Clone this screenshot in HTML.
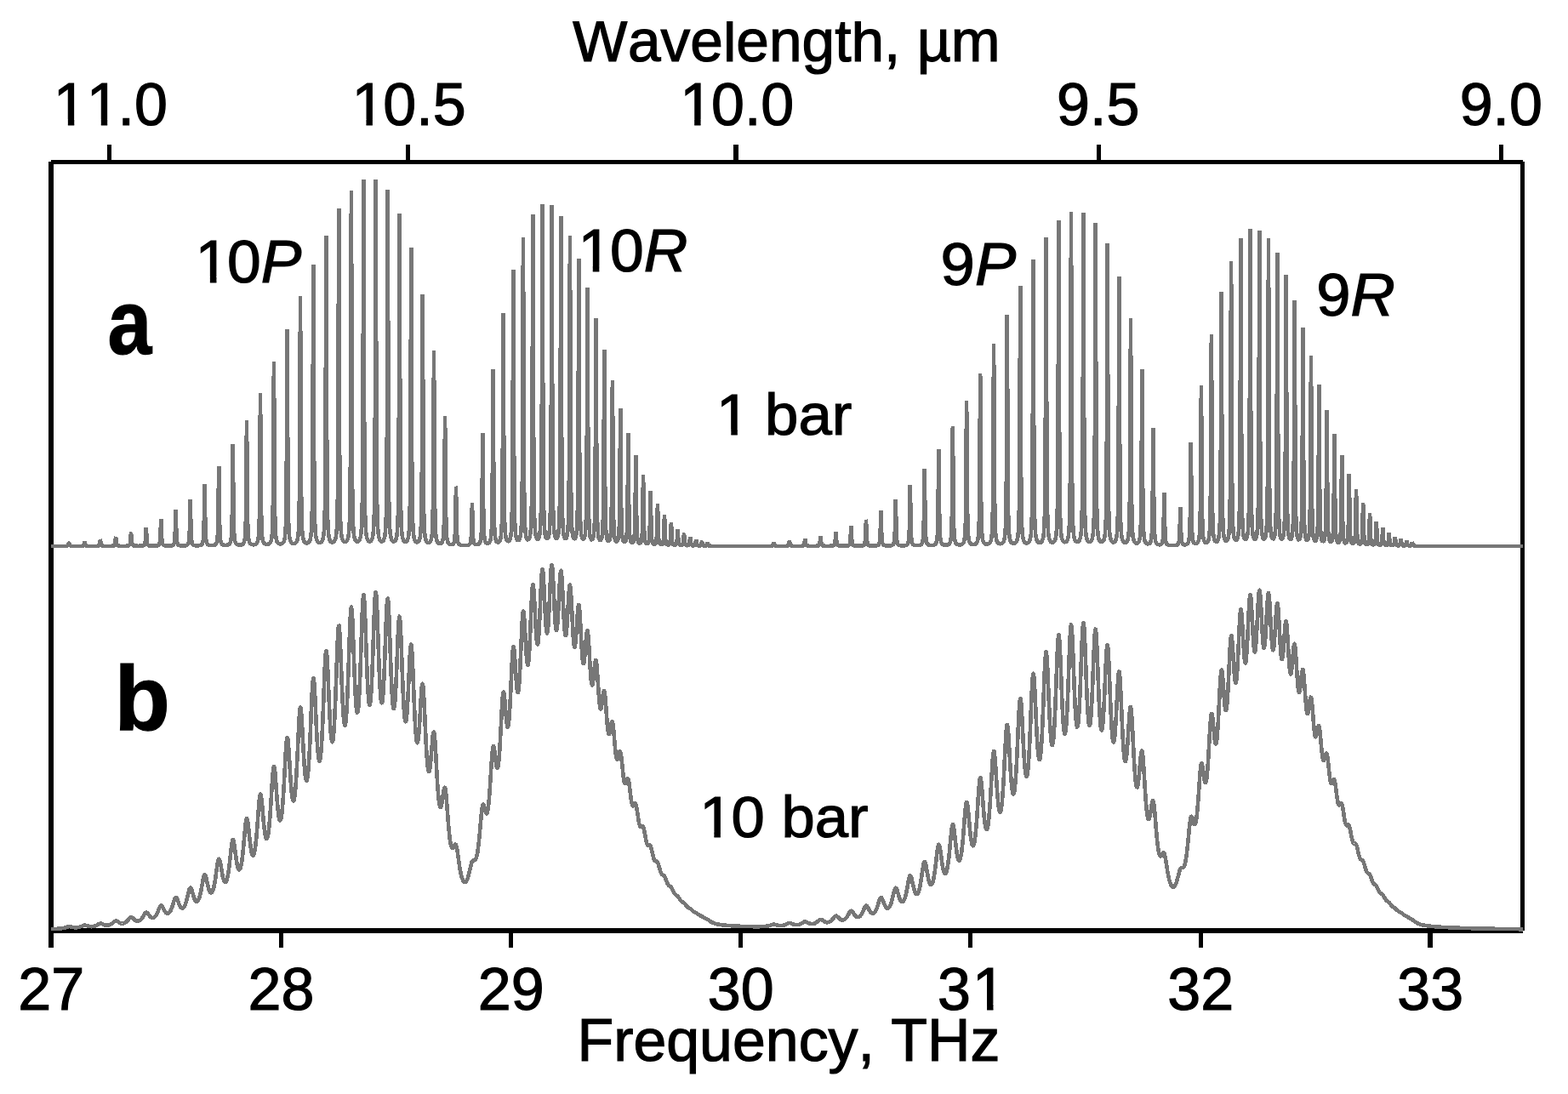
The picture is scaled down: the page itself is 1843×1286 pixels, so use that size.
<!DOCTYPE html>
<html lang="en"><head><meta charset="utf-8"><title>CO2 gain spectrum at 1 bar and 10 bar</title>
<style>
html,body{margin:0;padding:0;background:#fff;}
body{width:1843px;height:1286px;overflow:hidden;}
svg{display:block;}
text{font-kerning:none;font-family:"Liberation Sans",Arial,Helvetica,sans-serif;font-size:70px;fill:#000;stroke:#000;stroke-width:1.2px;stroke-linejoin:miter;}
.m{text-anchor:middle;}
.b{font-weight:bold;font-size:107px;}
.i{font-style:italic;}
.c{fill:none;stroke:#777;stroke-width:4.6;stroke-linejoin:bevel;stroke-linecap:butt;}
</style></head>
<body>
<svg width="1843" height="1286" viewBox="0 0 1843 1286">
<defs><clipPath id="tc"><rect x="0" y="25" width="1843" height="100"/></clipPath><clipPath id="k110"><path clip-rule="evenodd" d="M0 0H1843V1286H0ZM66.70 140.41H79.87V148.92H66.70ZM87.25 140.41H99.88V148.92H87.25ZM105.63 140.41H118.80V148.92H105.63ZM126.18 140.41H138.81V148.92H126.18Z"/></clipPath><clipPath id="k105"><path clip-rule="evenodd" d="M0 0H1843V1286H0ZM417.32 140.41H430.49V148.92H417.32ZM437.88 140.41H450.50V148.92H437.88Z"/></clipPath><clipPath id="k100"><path clip-rule="evenodd" d="M0 0H1843V1286H0ZM803.00 140.41H816.18V148.92H803.00ZM823.56 140.41H836.19V148.92H823.56Z"/></clipPath><clipPath id="k31"><path clip-rule="evenodd" d="M0 0H1843V1286H0ZM1146.90 1180.21H1160.07V1188.72H1146.90ZM1167.46 1180.21H1180.08V1188.72H1167.46Z"/></clipPath><clipPath id="k10P"><path clip-rule="evenodd" d="M0 0H1843V1286H0ZM233.45 325.24H246.88V333.71H233.45ZM254.42 325.24H267.29V333.71H254.42Z"/></clipPath><clipPath id="k10R"><path clip-rule="evenodd" d="M0 0H1843V1286H0ZM683.35 312.64H696.78V321.11H683.35ZM704.32 312.64H717.19V321.11H704.32Z"/></clipPath><clipPath id="k1bar"><path clip-rule="evenodd" d="M0 0H1843V1286H0ZM846.00 504.80H859.33V513.06H846.00ZM866.81 504.80H879.58V513.06H866.81Z"/></clipPath><clipPath id="k10bar"><path clip-rule="evenodd" d="M0 0H1843V1286H0ZM826.09 977.80H839.39V986.06H826.09ZM846.85 977.80H859.60V986.06H846.85Z"/></clipPath></defs>
<rect width="1843" height="1286" fill="#fff"/>
<g shape-rendering="crispEdges" fill="#000">
<rect x="60" y="188" width="1730" height="5"/>
<rect x="57" y="190" width="6" height="924"/>
<rect x="1787" y="190" width="5" height="904"/>
<rect x="60" y="1091" width="1730" height="6"/>
<rect x="126" y="170" width="5" height="19"/><rect x="477" y="170" width="5" height="19"/><rect x="862" y="170" width="6" height="19"/><rect x="1289" y="170" width="5" height="19"/><rect x="1762" y="170" width="5" height="19"/>
<rect x="328" y="1096" width="5" height="18"/><rect x="598" y="1096" width="5" height="18"/><rect x="868" y="1096" width="5" height="18"/><rect x="1138" y="1096" width="5" height="18"/><rect x="1409" y="1096" width="5" height="18"/><rect x="1678" y="1096" width="6" height="18"/>
</g>
<g shape-rendering="crispEdges">
<path class="c" d="M60.00,641.97 L61.00,641.97 L62.00,641.97 L63.00,641.97 L64.00,641.97 L65.00,641.97 L66.00,641.97 L67.00,641.97 L68.00,641.97 L69.00,641.97 L70.00,641.96 L71.00,641.96 L72.00,641.96 L73.00,641.95 L74.00,641.95 L75.00,641.94 L76.00,641.93 L77.00,641.90 L78.00,641.85 L79.00,641.72 L80.00,641.13 L81.00,638.00 L81.01,638.00 L82.00,641.11 L83.00,641.71 L84.00,641.85 L85.00,641.90 L86.00,641.92 L87.00,641.93 L88.00,641.94 L89.00,641.94 L90.00,641.94 L91.00,641.94 L92.00,641.93 L93.00,641.92 L94.00,641.91 L95.00,641.89 L96.00,641.85 L97.00,641.74 L98.00,641.42 L99.00,639.53 L99.58,636.50 L100.00,638.63 L101.00,641.30 L102.00,641.71 L103.00,641.83 L104.00,641.88 L105.00,641.90 L106.00,641.91 L107.00,641.92 L108.00,641.92 L109.00,641.92 L110.00,641.91 L111.00,641.91 L112.00,641.89 L113.00,641.87 L114.00,641.82 L115.00,641.72 L116.00,641.45 L117.00,640.21 L117.94,634.50 L118.00,634.59 L119.00,640.49 L120.00,641.49 L121.00,641.73 L122.00,641.82 L123.00,641.86 L124.00,641.88 L125.00,641.89 L126.00,641.89 L127.00,641.89 L128.00,641.89 L129.00,641.87 L130.00,641.85 L131.00,641.82 L132.00,641.76 L133.00,641.63 L134.00,641.29 L135.00,639.90 L136.00,631.32 L136.09,631.00 L137.00,639.23 L138.00,641.17 L139.00,641.59 L140.00,641.73 L141.00,641.80 L142.00,641.83 L143.00,641.85 L144.00,641.85 L145.00,641.85 L146.00,641.84 L147.00,641.83 L148.00,641.80 L149.00,641.75 L150.00,641.66 L151.00,641.46 L152.00,640.93 L153.00,638.64 L154.00,626.03 L154.02,626.00 L155.00,638.38 L156.00,640.87 L157.00,641.43 L158.00,641.63 L159.00,641.72 L160.00,641.77 L161.00,641.79 L162.00,641.80 L163.00,641.80 L164.00,641.78 L165.00,641.76 L166.00,641.71 L167.00,641.63 L168.00,641.48 L169.00,641.13 L170.00,640.10 L171.00,634.69 L171.74,620.00 L172.00,624.23 L173.00,638.66 L174.00,640.77 L175.00,641.33 L176.00,641.54 L177.00,641.65 L178.00,641.70 L179.00,641.72 L180.00,641.73 L181.00,641.72 L182.00,641.69 L183.00,641.64 L184.00,641.56 L185.00,641.40 L186.00,641.08 L187.00,640.28 L188.00,637.26 L189.00,616.60 L189.26,610.50 L190.00,631.52 L191.00,639.28 L192.00,640.75 L193.00,641.24 L194.00,641.45 L195.00,641.55 L196.00,641.61 L197.00,641.63 L198.00,641.62 L199.00,641.60 L200.00,641.55 L201.00,641.45 L202.00,641.28 L203.00,640.94 L204.00,640.14 L205.00,637.57 L206.00,622.12 L206.56,599.50 L207.00,617.17 L208.00,636.92 L209.00,639.96 L210.00,640.85 L211.00,641.21 L212.00,641.38 L213.00,641.46 L214.00,641.50 L215.00,641.51 L216.00,641.48 L217.00,641.42 L218.00,641.30 L219.00,641.10 L220.00,640.69 L221.00,639.74 L222.00,636.82 L223.00,620.45 L223.65,587.00 L224.00,603.82 L225.00,634.63 L226.00,639.18 L227.00,640.44 L228.00,640.94 L229.00,641.18 L230.00,641.30 L231.00,641.35 L232.00,641.35 L233.00,641.32 L234.00,641.23 L235.00,641.07 L236.00,640.78 L237.00,640.19 L238.00,638.81 L239.00,634.30 L240.00,606.89 L240.54,569.50 L241.00,601.08 L242.00,633.53 L243.00,638.58 L244.00,640.06 L245.00,640.67 L246.00,640.95 L247.00,641.10 L248.00,641.15 L249.00,641.15 L250.00,641.09 L251.00,640.95 L252.00,640.71 L253.00,640.24 L254.00,639.26 L255.00,636.77 L256.00,627.22 L257.00,562.34 L257.22,548.00 L258.00,612.62 L259.00,634.21 L260.00,638.41 L261.00,639.82 L262.00,640.43 L263.00,640.73 L264.00,640.87 L265.00,640.91 L266.00,640.88 L267.00,640.76 L268.00,640.53 L269.00,640.09 L270.00,639.23 L271.00,637.27 L272.00,631.27 L273.00,598.77 L273.70,522.00 L274.00,551.99 L275.00,625.01 L276.00,635.68 L277.00,638.58 L278.00,639.71 L279.00,640.24 L280.00,640.50 L281.00,640.61 L282.00,640.61 L283.00,640.50 L284.00,640.27 L285.00,639.82 L286.00,638.95 L287.00,637.06 L288.00,631.82 L289.00,608.45 L289.97,494.00 L290.00,494.46 L291.00,611.32 L292.00,632.28 L293.00,637.14 L294.00,638.90 L295.00,639.70 L296.00,640.09 L297.00,640.26 L298.00,640.28 L299.00,640.17 L300.00,639.91 L301.00,639.39 L302.00,638.39 L303.00,636.22 L304.00,630.36 L305.00,605.34 L306.00,463.06 L306.04,462.00 L307.00,600.46 L308.00,629.44 L309.00,635.85 L310.00,638.14 L311.00,639.15 L312.00,639.64 L313.00,639.86 L314.00,639.89 L315.00,639.75 L316.00,639.41 L317.00,638.73 L318.00,637.41 L319.00,634.48 L320.00,626.19 L321.00,587.53 L321.91,425.00 L322.00,431.65 L323.00,601.10 L324.00,628.52 L325.00,635.13 L326.00,637.57 L327.00,638.68 L328.00,639.21 L329.00,639.43 L330.00,639.43 L331.00,639.21 L332.00,638.71 L333.00,637.74 L334.00,635.75 L335.00,631.05 L336.00,615.92 L337.00,525.86 L337.57,387.00 L338.00,489.16 L339.00,611.14 L340.00,629.78 L341.00,635.17 L342.00,637.34 L343.00,638.36 L344.00,638.83 L345.00,638.98 L346.00,638.88 L347.00,638.49 L348.00,637.67 L349.00,636.06 L350.00,632.53 L351.00,622.93 L352.00,581.81 L353.00,349.44 L353.04,348.00 L354.00,574.53 L355.00,621.57 L356.00,632.00 L357.00,635.71 L358.00,637.36 L359.00,638.14 L360.00,638.46 L361.00,638.46 L362.00,638.14 L363.00,637.39 L364.00,635.89 L365.00,632.71 L366.00,624.67 L367.00,595.14 L368.00,393.30 L368.30,311.00 L369.00,522.95 L370.00,612.35 L371.00,628.80 L372.00,634.13 L373.00,636.40 L374.00,637.46 L375.00,637.93 L376.00,637.99 L377.00,637.70 L378.00,636.93 L379.00,635.36 L380.00,632.04 L381.00,623.77 L382.00,594.34 L383.00,396.53 L383.36,277.00 L384.00,494.23 L385.00,607.03 L386.00,626.81 L387.00,633.06 L388.00,635.69 L389.00,636.92 L390.00,637.45 L391.00,637.52 L392.00,637.17 L393.00,636.26 L394.00,634.40 L395.00,630.38 L396.00,619.99 L397.00,580.26 L398.00,309.31 L398.23,245.00 L399.00,516.21 L400.00,608.88 L401.00,626.83 L402.00,632.81 L403.00,635.38 L404.00,636.57 L405.00,637.06 L406.00,637.06 L407.00,636.56 L408.00,635.37 L409.00,632.88 L410.00,627.24 L411.00,611.11 L412.00,535.05 L412.90,224.00 L413.00,239.98 L414.00,564.46 L415.00,616.23 L416.00,628.79 L417.00,633.44 L418.00,635.52 L419.00,636.48 L420.00,636.78 L421.00,636.57 L422.00,635.75 L423.00,633.96 L424.00,630.09 L425.00,620.34 L426.00,585.55 L427.00,351.43 L427.36,211.00 L428.00,467.91 L429.00,600.72 L430.00,624.04 L431.00,631.41 L432.00,634.50 L433.00,635.92 L434.00,636.50 L435.00,636.50 L436.00,635.91 L437.00,634.48 L438.00,631.38 L439.00,623.98 L440.00,600.55 L441.00,466.79 L441.63,211.00 L442.00,353.16 L443.00,585.74 L444.00,620.33 L445.00,630.02 L446.00,633.86 L447.00,635.60 L448.00,636.36 L449.00,636.48 L450.00,636.00 L451.00,634.72 L452.00,631.90 L453.00,625.20 L454.00,604.55 L455.00,492.72 L455.70,223.00 L456.00,324.24 L457.00,582.08 L458.00,619.75 L459.00,629.92 L460.00,633.88 L461.00,635.68 L462.00,636.46 L463.00,636.59 L464.00,636.13 L465.00,634.84 L466.00,631.95 L467.00,624.91 L468.00,602.02 L469.00,466.04 L469.58,251.00 L470.00,404.60 L471.00,594.14 L472.00,623.04 L473.00,631.35 L474.00,634.68 L475.00,636.19 L476.00,636.82 L477.00,636.86 L478.00,636.29 L479.00,634.82 L480.00,631.45 L481.00,622.61 L482.00,589.05 L483.00,358.87 L483.26,291.00 L484.00,525.38 L485.00,611.80 L486.00,628.24 L487.00,633.66 L488.00,635.97 L489.00,637.03 L490.00,637.40 L491.00,637.25 L492.00,636.48 L493.00,634.62 L494.00,630.09 L495.00,616.14 L496.00,542.07 L496.74,346.00 L497.00,406.28 L498.00,597.84 L499.00,625.81 L500.00,633.25 L501.00,636.14 L502.00,637.45 L503.00,638.02 L504.00,638.10 L505.00,637.72 L506.00,636.62 L507.00,633.95 L508.00,626.38 L509.00,593.23 L510.00,412.27 L510.02,412.00 L511.00,590.56 L512.00,626.08 L513.00,634.08 L514.00,636.96 L515.00,638.24 L516.00,638.83 L517.00,639.02 L518.00,638.87 L519.00,638.24 L520.00,636.64 L521.00,632.12 L522.00,613.24 L523.00,494.72 L523.10,489.00 L524.00,602.70 L525.00,630.45 L526.00,636.37 L527.00,638.46 L528.00,639.40 L529.00,639.86 L530.00,640.06 L531.00,640.05 L532.00,639.79 L533.00,639.02 L534.00,636.70 L535.00,626.19 L535.99,572.00 L536.00,572.02 L537.00,626.69 L538.00,636.94 L539.00,639.31 L540.00,640.19 L541.00,640.61 L542.00,640.83 L543.00,640.96 L544.00,641.04 L545.00,641.08 L546.00,641.09 L547.00,641.07 L548.00,641.03 L549.00,640.94 L550.00,640.77 L551.00,640.46 L552.00,639.79 L553.00,637.94 L554.00,629.68 L554.95,591.00 L555.00,591.41 L556.00,631.20 L557.00,638.06 L558.00,639.60 L559.00,640.09 L560.00,640.22 L561.00,640.13 L562.00,639.85 L563.00,639.25 L564.00,638.01 L565.00,634.91 L566.00,623.89 L567.00,549.52 L567.35,509.00 L568.00,589.59 L569.00,628.95 L570.00,635.86 L571.00,637.97 L572.00,638.73 L573.00,638.91 L574.00,638.68 L575.00,637.96 L576.00,636.36 L577.00,632.44 L578.00,619.59 L579.00,541.60 L579.54,434.00 L580.00,523.75 L581.00,617.11 L582.00,631.53 L583.00,635.63 L584.00,637.14 L585.00,637.62 L586.00,637.44 L587.00,636.58 L588.00,634.52 L589.00,629.39 L590.00,612.45 L591.00,509.29 L591.54,368.00 L592.00,486.84 L593.00,609.39 L594.00,628.36 L595.00,633.78 L596.00,635.79 L597.00,636.43 L598.00,636.22 L599.00,635.07 L600.00,632.22 L601.00,624.77 L602.00,597.65 L603.00,413.69 L603.34,317.00 L604.00,515.71 L605.00,610.87 L606.00,627.74 L607.00,632.96 L608.00,634.92 L609.00,635.44 L610.00,634.95 L611.00,633.15 L612.00,628.63 L613.00,615.49 L614.00,555.10 L614.94,279.00 L615.00,283.52 L616.00,569.30 L617.00,617.81 L618.00,629.10 L619.00,633.01 L620.00,634.42 L621.00,634.49 L622.00,633.30 L623.00,630.00 L624.00,621.15 L625.00,588.76 L626.00,368.77 L626.34,252.00 L627.00,489.95 L628.00,604.53 L629.00,624.83 L630.00,631.09 L631.00,633.40 L632.00,633.95 L633.00,633.14 L634.00,630.40 L635.00,623.07 L636.00,598.45 L637.00,447.99 L637.54,240.00 L638.00,413.31 L639.00,593.94 L640.00,621.88 L641.00,629.84 L642.00,632.74 L643.00,633.55 L644.00,632.87 L645.00,630.22 L646.00,622.97 L647.00,598.47 L648.00,448.62 L648.54,241.00 L649.00,413.60 L650.00,593.96 L651.00,621.84 L652.00,629.78 L653.00,632.64 L654.00,633.38 L655.00,632.55 L656.00,629.49 L657.00,620.83 L658.00,588.78 L659.00,370.56 L659.34,254.00 L660.00,490.29 L661.00,604.47 L662.00,624.66 L663.00,630.86 L664.00,633.06 L665.00,633.38 L666.00,632.02 L667.00,627.74 L668.00,614.72 L669.00,554.15 L669.94,277.00 L670.00,281.60 L671.00,568.63 L672.00,617.33 L673.00,628.64 L674.00,632.46 L675.00,633.65 L676.00,633.19 L677.00,630.65 L678.00,623.14 L679.00,594.95 L680.00,402.26 L680.34,304.00 L681.00,511.58 L682.00,609.37 L683.00,626.75 L684.00,632.06 L685.00,633.87 L686.00,633.92 L687.00,632.19 L688.00,626.79 L689.00,607.90 L690.00,490.35 L690.53,338.00 L691.00,474.15 L692.00,605.94 L693.00,626.51 L694.00,632.35 L695.00,634.33 L696.00,634.55 L697.00,633.09 L698.00,628.33 L699.00,611.42 L700.00,505.12 L700.51,374.40 L701.00,497.78 L702.00,610.61 L703.00,628.35 L704.00,633.40 L705.00,635.08 L706.00,635.14 L707.00,633.55 L708.00,628.31 L709.00,607.88 L710.00,466.68 L710.30,411.00 L711.00,558.90 L712.00,620.29 L713.00,631.50 L714.00,634.92 L715.00,635.95 L716.00,635.60 L717.00,633.39 L718.00,625.96 L719.00,589.11 L719.87,447.00 L720.00,458.13 L721.00,606.18 L722.00,629.12 L723.00,634.62 L724.00,636.39 L725.00,636.66 L726.00,635.61 L727.00,631.77 L728.00,616.14 L729.00,508.13 L729.24,480.30 L730.00,589.20 L731.00,627.41 L732.00,634.65 L733.00,636.85 L734.00,637.40 L735.00,636.82 L736.00,634.27 L737.00,624.39 L738.00,557.70 L738.40,509.20 L739.00,584.15 L740.00,627.94 L741.00,635.35 L742.00,637.49 L743.00,638.06 L744.00,637.61 L745.00,635.47 L746.00,626.90 L747.00,567.88 L747.35,535.20 L748.00,599.48 L749.00,631.16 L750.00,636.71 L751.00,638.32 L752.00,638.68 L753.00,638.15 L754.00,635.85 L755.00,625.45 L756.00,560.73 L756.09,558.40 L757.00,620.58 L758.00,635.19 L759.00,638.24 L760.00,639.14 L761.00,639.18 L762.00,638.34 L763.00,634.92 L764.00,614.33 L764.62,577.00 L765.00,599.51 L766.00,633.13 L767.00,638.12 L768.00,639.43 L769.00,639.74 L770.00,639.39 L771.00,637.73 L772.00,629.42 L772.93,592.00 L773.00,592.86 L774.00,631.80 L775.00,638.29 L776.00,639.76 L777.00,640.16 L778.00,640.01 L779.00,638.98 L780.00,633.95 L781.00,605.42 L781.03,605.30 L782.00,633.29 L783.00,638.99 L784.00,640.21 L785.00,640.53 L786.00,640.39 L787.00,639.47 L788.00,634.69 L788.91,614.00 L789.00,614.73 L790.00,636.34 L791.00,639.85 L792.00,640.65 L793.00,640.83 L794.00,640.63 L795.00,639.57 L796.00,632.79 L796.58,622.00 L797.00,629.72 L798.00,639.25 L799.00,640.68 L800.00,641.03 L801.00,641.04 L802.00,640.65 L803.00,638.60 L804.00,627.04 L804.03,627.00 L805.00,638.39 L806.00,640.68 L807.00,641.17 L808.00,641.26 L809.00,641.09 L810.00,640.16 L811.00,633.43 L811.25,631.50 L812.00,638.37 L813.00,640.87 L814.00,641.32 L815.00,641.41 L816.00,641.29 L817.00,640.58 L818.00,635.50 L818.26,634.00 L819.00,639.20 L820.00,641.12 L821.00,641.46 L822.00,641.53 L823.00,641.41 L824.00,640.70 L825.00,636.52 L825.03,636.50 L826.00,640.60 L827.00,641.44 L828.00,641.61 L829.00,641.62 L830.00,641.43 L831.00,640.14 L831.59,638.00 L832.00,639.48 L833.00,641.39 L834.00,641.69 L835.00,641.78 L836.00,641.82 L837.00,641.85 L838.00,641.86 L839.00,641.87 L840.00,641.88 L841.00,641.88 L842.00,641.89 L843.00,641.89 L844.00,641.89 L845.00,641.90 L846.00,641.90 L847.00,641.90 L848.00,641.90 L849.00,641.91 L850.00,641.91 L851.00,641.91 L852.00,641.91 L853.00,641.91 L854.00,641.91 L855.00,641.91 L856.00,641.92 L857.00,641.92 L858.00,641.92 L859.00,641.92 L860.00,641.92 L861.00,641.92 L862.00,641.92 L863.00,641.92 L864.00,641.92 L865.00,641.92 L866.00,641.92 L867.00,641.92 L868.00,641.93 L869.00,641.93 L870.00,641.93 L871.00,641.93 L872.00,641.93 L873.00,641.93 L874.00,641.93 L875.00,641.93 L876.00,641.93 L877.00,641.93 L878.00,641.93 L879.00,641.93 L880.00,641.93 L881.00,641.93 L882.00,641.93 L883.00,641.93 L884.00,641.93 L885.00,641.93 L886.00,641.93 L887.00,641.93 L888.00,641.93 L889.00,641.93 L890.00,641.93 L891.00,641.93 L892.00,641.93 L893.00,641.93 L894.00,641.93 L895.00,641.93 L896.00,641.93 L897.00,641.93 L898.00,641.93 L899.00,641.92 L900.00,641.92 L901.00,641.92 L902.00,641.91 L903.00,641.91 L904.00,641.89 L905.00,641.87 L906.00,641.83 L907.00,641.72 L908.00,641.33 L909.00,638.69 L909.32,637.50 L910.00,640.30 L911.00,641.54 L912.00,641.77 L913.00,641.84 L914.00,641.88 L915.00,641.89 L916.00,641.90 L917.00,641.90 L918.00,641.90 L919.00,641.90 L920.00,641.90 L921.00,641.89 L922.00,641.88 L923.00,641.86 L924.00,641.82 L925.00,641.73 L926.00,641.47 L927.00,640.26 L927.88,635.50 L928.00,635.82 L929.00,640.78 L930.00,641.56 L931.00,641.75 L932.00,641.82 L933.00,641.86 L934.00,641.87 L935.00,641.88 L936.00,641.89 L937.00,641.89 L938.00,641.88 L939.00,641.88 L940.00,641.86 L941.00,641.84 L942.00,641.80 L943.00,641.72 L944.00,641.50 L945.00,640.70 L946.00,635.25 L946.27,633.50 L947.00,639.09 L948.00,641.22 L949.00,641.62 L950.00,641.76 L951.00,641.81 L952.00,641.84 L953.00,641.86 L954.00,641.86 L955.00,641.87 L956.00,641.86 L957.00,641.85 L958.00,641.84 L959.00,641.81 L960.00,641.76 L961.00,641.66 L962.00,641.43 L963.00,640.64 L964.00,635.65 L964.47,630.50 L965.00,636.27 L966.00,640.72 L967.00,641.44 L968.00,641.66 L969.00,641.75 L970.00,641.80 L971.00,641.82 L972.00,641.83 L973.00,641.83 L974.00,641.83 L975.00,641.81 L976.00,641.79 L977.00,641.75 L978.00,641.68 L979.00,641.54 L980.00,641.22 L981.00,640.12 L982.00,633.29 L982.50,625.50 L983.00,633.42 L984.00,640.14 L985.00,641.21 L986.00,641.53 L987.00,641.66 L988.00,641.73 L989.00,641.76 L990.00,641.78 L991.00,641.78 L992.00,641.77 L993.00,641.75 L994.00,641.72 L995.00,641.66 L996.00,641.55 L997.00,641.32 L998.00,640.76 L999.00,638.75 L1000.00,625.13 L1000.33,618.30 L1001.00,632.93 L1002.00,639.77 L1003.00,641.00 L1004.00,641.40 L1005.00,641.57 L1006.00,641.65 L1007.00,641.69 L1008.00,641.71 L1009.00,641.71 L1010.00,641.70 L1011.00,641.67 L1012.00,641.62 L1013.00,641.52 L1014.00,641.34 L1015.00,640.96 L1016.00,639.89 L1017.00,635.19 L1017.98,611.50 L1018.00,611.53 L1019.00,635.53 L1020.00,639.94 L1021.00,640.95 L1022.00,641.32 L1023.00,641.49 L1024.00,641.57 L1025.00,641.62 L1026.00,641.63 L1027.00,641.62 L1028.00,641.59 L1029.00,641.54 L1030.00,641.44 L1031.00,641.25 L1032.00,640.89 L1033.00,640.00 L1034.00,637.00 L1035.00,617.55 L1035.44,600.00 L1036.00,622.27 L1037.00,637.59 L1038.00,640.13 L1039.00,640.91 L1040.00,641.24 L1041.00,641.39 L1042.00,641.47 L1043.00,641.51 L1044.00,641.51 L1045.00,641.49 L1046.00,641.42 L1047.00,641.31 L1048.00,641.11 L1049.00,640.72 L1050.00,639.83 L1051.00,637.13 L1052.00,622.66 L1052.71,587.00 L1053.00,599.79 L1054.00,634.05 L1055.00,639.05 L1056.00,640.40 L1057.00,640.93 L1058.00,641.18 L1059.00,641.30 L1060.00,641.36 L1061.00,641.37 L1062.00,641.34 L1063.00,641.27 L1064.00,641.13 L1065.00,640.88 L1066.00,640.39 L1067.00,639.31 L1068.00,636.12 L1069.00,619.91 L1069.79,570.10 L1070.00,580.28 L1071.00,630.53 L1072.00,637.93 L1073.00,639.84 L1074.00,640.58 L1075.00,640.92 L1076.00,641.09 L1077.00,641.17 L1078.00,641.19 L1079.00,641.15 L1080.00,641.06 L1081.00,640.87 L1082.00,640.53 L1083.00,639.87 L1084.00,638.33 L1085.00,633.61 L1086.00,607.38 L1086.67,551.10 L1087.00,577.22 L1088.00,629.61 L1089.00,637.32 L1090.00,639.44 L1091.00,640.28 L1092.00,640.68 L1093.00,640.88 L1094.00,640.96 L1095.00,640.97 L1096.00,640.91 L1097.00,640.76 L1098.00,640.49 L1099.00,639.97 L1100.00,638.91 L1101.00,636.28 L1102.00,626.90 L1103.00,563.59 L1103.35,528.20 L1104.00,597.08 L1105.00,631.25 L1106.00,637.31 L1107.00,639.24 L1108.00,640.06 L1109.00,640.45 L1110.00,640.64 L1111.00,640.71 L1112.00,640.69 L1113.00,640.57 L1114.00,640.32 L1115.00,639.85 L1116.00,638.94 L1117.00,636.91 L1118.00,631.03 L1119.00,602.20 L1119.84,501.20 L1120.00,513.86 L1121.00,618.04 L1122.00,633.76 L1123.00,637.71 L1124.00,639.21 L1125.00,639.90 L1126.00,640.24 L1127.00,640.39 L1128.00,640.41 L1129.00,640.31 L1130.00,640.06 L1131.00,639.59 L1132.00,638.69 L1133.00,636.77 L1134.00,631.70 L1135.00,611.11 L1136.00,479.86 L1136.12,471.30 L1137.00,597.18 L1138.00,629.20 L1139.00,635.92 L1140.00,638.25 L1141.00,639.28 L1142.00,639.78 L1143.00,640.01 L1144.00,640.07 L1145.00,639.97 L1146.00,639.71 L1147.00,639.19 L1148.00,638.18 L1149.00,636.05 L1150.00,630.56 L1151.00,609.29 L1152.00,465.59 L1152.20,439.10 L1153.00,580.73 L1154.00,625.55 L1155.00,634.41 L1156.00,637.39 L1157.00,638.69 L1158.00,639.32 L1159.00,639.61 L1160.00,639.68 L1161.00,639.57 L1162.00,639.24 L1163.00,638.59 L1164.00,637.31 L1165.00,634.55 L1166.00,627.17 L1167.00,596.47 L1168.00,409.76 L1168.08,404.10 L1169.00,583.36 L1170.00,624.80 L1171.00,633.72 L1172.00,636.86 L1173.00,638.24 L1174.00,638.92 L1175.00,639.21 L1176.00,639.26 L1177.00,639.08 L1178.00,638.62 L1179.00,637.70 L1180.00,635.86 L1181.00,631.66 L1182.00,619.08 L1183.00,553.67 L1183.76,370.00 L1184.00,418.71 L1185.00,600.51 L1186.00,627.07 L1187.00,634.06 L1188.00,636.76 L1189.00,638.01 L1190.00,638.60 L1191.00,638.83 L1192.00,638.78 L1193.00,638.44 L1194.00,637.70 L1195.00,636.23 L1196.00,633.10 L1197.00,625.02 L1198.00,594.11 L1199.00,383.62 L1199.22,336.00 L1200.00,546.00 L1201.00,616.65 L1202.00,630.39 L1203.00,634.98 L1204.00,636.97 L1205.00,637.91 L1206.00,638.33 L1207.00,638.39 L1208.00,638.14 L1209.00,637.48 L1210.00,636.14 L1211.00,633.36 L1212.00,626.61 L1213.00,603.95 L1214.00,460.91 L1214.49,305.00 L1215.00,470.66 L1216.00,605.16 L1217.00,626.83 L1218.00,633.35 L1219.00,636.02 L1220.00,637.28 L1221.00,637.85 L1222.00,637.99 L1223.00,637.78 L1224.00,637.12 L1225.00,635.74 L1226.00,632.88 L1227.00,625.99 L1228.00,603.39 L1229.00,465.55 L1229.54,279.00 L1230.00,438.00 L1231.00,599.81 L1232.00,625.03 L1233.00,632.44 L1234.00,635.44 L1235.00,636.84 L1236.00,637.47 L1237.00,637.63 L1238.00,637.37 L1239.00,636.61 L1240.00,635.01 L1241.00,631.59 L1242.00,623.07 L1243.00,592.99 L1244.00,391.97 L1244.38,259.00 L1245.00,482.09 L1246.00,604.66 L1247.00,625.90 L1248.00,632.58 L1249.00,635.37 L1250.00,636.68 L1251.00,637.24 L1252.00,637.31 L1253.00,636.92 L1254.00,635.91 L1255.00,633.78 L1256.00,629.02 L1257.00,615.88 L1258.00,558.64 L1259.00,249.28 L1259.01,249.00 L1260.00,554.93 L1261.00,615.20 L1262.00,628.77 L1263.00,633.63 L1264.00,635.78 L1265.00,636.78 L1266.00,637.14 L1267.00,637.01 L1268.00,636.33 L1269.00,634.80 L1270.00,631.49 L1271.00,623.27 L1272.00,594.92 L1273.00,410.34 L1273.44,250.00 L1274.00,460.80 L1275.00,601.42 L1276.00,624.87 L1277.00,632.08 L1278.00,635.05 L1279.00,636.43 L1280.00,637.01 L1281.00,637.05 L1282.00,636.56 L1283.00,635.33 L1284.00,632.63 L1285.00,626.19 L1286.00,605.85 L1287.00,490.65 L1287.64,262.00 L1288.00,382.28 L1289.00,591.71 L1290.00,622.74 L1291.00,631.39 L1292.00,634.81 L1293.00,636.37 L1294.00,637.05 L1295.00,637.16 L1296.00,636.76 L1297.00,635.63 L1298.00,633.12 L1299.00,627.07 L1300.00,607.92 L1301.00,499.06 L1301.64,286.00 L1302.00,400.49 L1303.00,595.10 L1304.00,623.98 L1305.00,632.06 L1306.00,635.25 L1307.00,636.71 L1308.00,637.34 L1309.00,637.43 L1310.00,637.00 L1311.00,635.84 L1312.00,633.19 L1313.00,626.51 L1314.00,603.16 L1315.00,449.87 L1315.42,325.00 L1316.00,499.06 L1317.00,609.57 L1318.00,628.19 L1319.00,633.94 L1320.00,636.33 L1321.00,637.42 L1322.00,637.86 L1323.00,637.82 L1324.00,637.28 L1325.00,635.91 L1326.00,632.68 L1327.00,623.52 L1328.00,582.75 L1328.99,374.00 L1329.00,374.11 L1330.00,584.71 L1331.00,623.98 L1332.00,632.98 L1333.00,636.23 L1334.00,637.68 L1335.00,638.33 L1336.00,638.53 L1337.00,638.32 L1338.00,637.57 L1339.00,635.77 L1340.00,631.04 L1341.00,613.77 L1342.00,496.35 L1342.34,434.20 L1343.00,561.25 L1344.00,622.39 L1345.00,633.33 L1346.00,636.83 L1347.00,638.32 L1348.00,639.02 L1349.00,639.30 L1350.00,639.27 L1351.00,638.88 L1352.00,637.85 L1353.00,635.14 L1354.00,625.81 L1355.00,566.19 L1355.48,503.00 L1356.00,572.07 L1357.00,626.69 L1358.00,635.56 L1359.00,638.26 L1360.00,639.39 L1361.00,639.94 L1362.00,640.20 L1363.00,640.26 L1364.00,640.14 L1365.00,639.68 L1366.00,638.39 L1367.00,633.67 L1368.00,602.12 L1368.40,579.10 L1369.00,614.57 L1370.00,635.39 L1371.00,638.98 L1372.00,640.12 L1373.00,640.62 L1374.00,640.87 L1375.00,641.02 L1376.00,641.11 L1377.00,641.15 L1378.00,641.17 L1379.00,641.17 L1380.00,641.14 L1381.00,641.07 L1382.00,640.96 L1383.00,640.75 L1384.00,640.32 L1385.00,639.28 L1386.00,635.66 L1387.00,611.57 L1387.38,596.10 L1388.00,622.69 L1389.00,636.99 L1390.00,639.43 L1391.00,640.14 L1392.00,640.35 L1393.00,640.35 L1394.00,640.17 L1395.00,639.76 L1396.00,638.93 L1397.00,637.03 L1398.00,631.40 L1399.00,602.22 L1399.76,520.40 L1400.00,542.11 L1401.00,622.99 L1402.00,634.74 L1403.00,637.75 L1404.00,638.81 L1405.00,639.15 L1406.00,639.08 L1407.00,638.62 L1408.00,637.54 L1409.00,635.05 L1410.00,627.96 L1411.00,595.11 L1411.92,453.00 L1412.00,457.44 L1413.00,605.29 L1414.00,629.52 L1415.00,635.22 L1416.00,637.19 L1417.00,637.89 L1418.00,637.93 L1419.00,637.38 L1420.00,635.96 L1421.00,632.56 L1422.00,622.60 L1423.00,574.59 L1423.87,393.00 L1424.00,408.51 L1425.00,597.27 L1426.00,626.34 L1427.00,633.40 L1428.00,635.88 L1429.00,636.76 L1430.00,636.77 L1431.00,635.98 L1432.00,633.88 L1433.00,628.62 L1434.00,611.51 L1435.00,511.02 L1435.59,343.00 L1436.00,454.98 L1437.00,604.13 L1438.00,626.57 L1439.00,632.83 L1440.00,635.12 L1441.00,635.85 L1442.00,635.58 L1443.00,634.18 L1444.00,630.61 L1445.00,620.68 L1446.00,579.51 L1447.00,320.49 L1447.11,307.00 L1448.00,555.21 L1449.00,616.25 L1450.00,629.01 L1451.00,633.24 L1452.00,634.78 L1453.00,634.96 L1454.00,633.97 L1455.00,631.09 L1456.00,623.41 L1457.00,596.06 L1458.00,414.59 L1458.40,280.00 L1459.00,484.00 L1460.00,604.92 L1461.00,625.41 L1462.00,631.58 L1463.00,633.84 L1464.00,634.37 L1465.00,633.58 L1466.00,630.91 L1467.00,623.68 L1468.00,598.72 L1469.00,440.02 L1469.48,269.00 L1470.00,452.79 L1471.00,600.30 L1472.00,623.97 L1473.00,630.88 L1474.00,633.37 L1475.00,633.96 L1476.00,633.11 L1477.00,630.15 L1478.00,621.87 L1479.00,591.32 L1480.00,383.72 L1480.35,271.00 L1481.00,496.20 L1482.00,606.01 L1483.00,625.38 L1484.00,631.31 L1485.00,633.40 L1486.00,633.69 L1487.00,632.38 L1488.00,628.33 L1489.00,616.21 L1490.00,561.80 L1490.99,280.00 L1491.00,280.05 L1492.00,563.28 L1493.00,616.47 L1494.00,628.42 L1495.00,632.41 L1496.00,633.67 L1497.00,633.28 L1498.00,630.91 L1499.00,623.95 L1500.00,598.94 L1501.00,434.20 L1501.43,297.00 L1502.00,484.51 L1503.00,605.46 L1504.00,625.60 L1505.00,631.55 L1506.00,633.59 L1507.00,633.77 L1508.00,632.18 L1509.00,627.17 L1510.00,610.38 L1511.00,514.15 L1511.64,323.00 L1512.00,423.62 L1513.00,598.67 L1514.00,624.47 L1515.00,631.44 L1516.00,633.80 L1517.00,634.18 L1518.00,632.85 L1519.00,628.40 L1520.00,613.31 L1521.00,526.83 L1521.65,353.00 L1522.00,442.89 L1523.00,602.47 L1524.00,625.97 L1525.00,632.27 L1526.00,634.37 L1527.00,634.61 L1528.00,633.12 L1529.00,628.17 L1530.00,609.97 L1531.00,490.25 L1531.44,385.00 L1532.00,522.01 L1533.00,614.17 L1534.00,629.38 L1535.00,633.79 L1536.00,635.17 L1537.00,634.95 L1538.00,632.80 L1539.00,625.69 L1540.00,593.50 L1541.00,418.28 L1541.01,418.10 L1542.00,591.38 L1543.00,625.51 L1544.00,633.02 L1545.00,635.41 L1546.00,635.89 L1547.00,634.88 L1548.00,631.06 L1549.00,616.41 L1550.00,517.03 L1550.38,451.60 L1551.00,561.99 L1552.00,622.38 L1553.00,632.73 L1554.00,635.75 L1555.00,636.58 L1556.00,636.05 L1557.00,633.45 L1558.00,623.77 L1559.00,563.25 L1559.53,482.30 L1560.00,552.37 L1561.00,622.54 L1562.00,633.40 L1563.00,636.40 L1564.00,637.24 L1565.00,636.84 L1566.00,634.58 L1567.00,625.94 L1568.00,569.81 L1568.48,510.20 L1569.00,575.32 L1570.00,626.80 L1571.00,635.04 L1572.00,637.33 L1573.00,637.90 L1574.00,637.36 L1575.00,634.85 L1576.00,624.16 L1577.00,550.44 L1577.21,535.20 L1578.00,608.46 L1579.00,632.39 L1580.00,636.98 L1581.00,638.31 L1582.00,638.47 L1583.00,637.54 L1584.00,633.81 L1585.00,613.13 L1585.74,557.10 L1586.00,573.60 L1587.00,628.61 L1588.00,636.59 L1589.00,638.57 L1590.00,639.08 L1591.00,638.73 L1592.00,636.87 L1593.00,628.18 L1594.00,576.04 L1594.06,575.10 L1595.00,625.48 L1596.00,636.58 L1597.00,638.92 L1598.00,639.56 L1599.00,639.45 L1600.00,638.28 L1601.00,632.94 L1602.00,596.51 L1602.18,591.30 L1603.00,626.89 L1604.00,637.42 L1605.00,639.46 L1606.00,640.01 L1607.00,639.92 L1608.00,638.92 L1609.00,634.15 L1610.00,604.19 L1610.09,603.10 L1611.00,631.91 L1612.00,638.68 L1613.00,640.07 L1614.00,640.42 L1615.00,640.25 L1616.00,639.15 L1617.00,632.99 L1617.80,613.30 L1618.00,616.96 L1619.00,636.99 L1620.00,639.93 L1621.00,640.62 L1622.00,640.72 L1623.00,640.35 L1624.00,638.53 L1625.00,625.51 L1625.31,620.00 L1626.00,633.78 L1627.00,639.68 L1628.00,640.73 L1629.00,640.98 L1630.00,640.88 L1631.00,640.11 L1632.00,635.19 L1632.61,626.30 L1633.00,631.73 L1634.00,639.73 L1635.00,640.91 L1636.00,641.19 L1637.00,641.17 L1638.00,640.72 L1639.00,637.96 L1639.72,630.80 L1640.00,633.18 L1641.00,640.13 L1642.00,641.13 L1643.00,641.36 L1644.00,641.33 L1645.00,640.93 L1646.00,638.36 L1646.64,633.30 L1647.00,636.04 L1648.00,640.67 L1649.00,641.34 L1650.00,641.49 L1651.00,641.44 L1652.00,640.99 L1653.00,637.72 L1653.36,635.80 L1654.00,639.41 L1655.00,641.25 L1656.00,641.55 L1657.00,641.61 L1658.00,641.49 L1659.00,640.71 L1659.89,637.50 L1660.00,637.70 L1661.00,641.08 L1662.00,641.62 L1663.00,641.76 L1664.00,641.82 L1665.00,641.84 L1666.00,641.86 L1667.00,641.87 L1668.00,641.88 L1669.00,641.89 L1670.00,641.90 L1671.00,641.90 L1672.00,641.90 L1673.00,641.91 L1674.00,641.91 L1675.00,641.91 L1676.00,641.92 L1677.00,641.92 L1678.00,641.92 L1679.00,641.92 L1680.00,641.92 L1681.00,641.93 L1682.00,641.93 L1683.00,641.93 L1684.00,641.93 L1685.00,641.93 L1686.00,641.93 L1687.00,641.93 L1688.00,641.93 L1689.00,641.94 L1690.00,641.94 L1691.00,641.94 L1692.00,641.94 L1693.00,641.94 L1694.00,641.94 L1695.00,641.94 L1696.00,641.94 L1697.00,641.94 L1698.00,641.94 L1699.00,641.94 L1700.00,641.95 L1701.00,641.95 L1702.00,641.95 L1703.00,641.95 L1704.00,641.95 L1705.00,641.95 L1706.00,641.95 L1707.00,641.95 L1708.00,641.95 L1709.00,641.95 L1710.00,641.95 L1711.00,641.95 L1712.00,641.95 L1713.00,641.95 L1714.00,641.95 L1715.00,641.95 L1716.00,641.95 L1717.00,641.96 L1718.00,641.96 L1719.00,641.96 L1720.00,641.96 L1721.00,641.96 L1722.00,641.96 L1723.00,641.96 L1724.00,641.96 L1725.00,641.96 L1726.00,641.96 L1727.00,641.96 L1728.00,641.96 L1729.00,641.96 L1730.00,641.96 L1731.00,641.96 L1732.00,641.96 L1733.00,641.96 L1734.00,641.96 L1735.00,641.96 L1736.00,641.96 L1737.00,641.96 L1738.00,641.96 L1739.00,641.96 L1740.00,641.96 L1741.00,641.96 L1742.00,641.96 L1743.00,641.97 L1744.00,641.97 L1745.00,641.97 L1746.00,641.97 L1747.00,641.97 L1748.00,641.97 L1749.00,641.97 L1750.00,641.97 L1751.00,641.97 L1752.00,641.97 L1753.00,641.97 L1754.00,641.97 L1755.00,641.97 L1756.00,641.97 L1757.00,641.97 L1758.00,641.97 L1759.00,641.97 L1760.00,641.97 L1761.00,641.97 L1762.00,641.97 L1763.00,641.97 L1764.00,641.97 L1765.00,641.97 L1766.00,641.97 L1767.00,641.97 L1768.00,641.97 L1769.00,641.97 L1770.00,641.97 L1771.00,641.97 L1772.00,641.97 L1773.00,641.97 L1774.00,641.97 L1775.00,641.97 L1776.00,641.97 L1777.00,641.97 L1778.00,641.97 L1779.00,641.97 L1780.00,641.97 L1781.00,641.97 L1782.00,641.97 L1783.00,641.97 L1784.00,641.97 L1785.00,641.97 L1786.00,641.97 L1787.00,641.97 L1788.00,641.97 L1789.00,641.98 L1790.00,641.98"/>
<path class="c" style="stroke-linejoin:round" d="M60.00,1092.12 L60.50,1092.11 L61.00,1092.09 L61.50,1092.07 L62.00,1092.06 L62.50,1092.04 L63.00,1092.02 L63.50,1092.00 L64.00,1091.98 L64.50,1091.96 L65.00,1091.93 L65.50,1091.91 L66.00,1091.88 L66.50,1091.86 L67.00,1091.83 L67.50,1091.80 L68.00,1091.76 L68.50,1091.73 L69.00,1091.69 L69.50,1091.65 L70.00,1091.60 L70.50,1091.55 L71.00,1091.50 L71.50,1091.44 L72.00,1091.38 L72.50,1091.31 L73.00,1091.23 L73.50,1091.15 L74.00,1091.05 L74.50,1090.95 L75.00,1090.84 L75.50,1090.71 L76.00,1090.57 L76.50,1090.43 L77.00,1090.27 L77.50,1090.10 L78.00,1089.93 L78.50,1089.75 L79.00,1089.59 L79.50,1089.44 L80.00,1089.32 L80.50,1089.23 L81.00,1089.18 L81.50,1089.18 L82.00,1089.22 L82.50,1089.29 L83.00,1089.39 L83.50,1089.50 L84.00,1089.62 L84.50,1089.74 L85.00,1089.86 L85.50,1089.96 L86.00,1090.05 L86.50,1090.13 L87.00,1090.19 L87.50,1090.23 L88.00,1090.27 L88.50,1090.29 L89.00,1090.29 L89.50,1090.28 L90.00,1090.26 L90.50,1090.23 L91.00,1090.18 L91.50,1090.12 L92.00,1090.04 L92.50,1089.95 L93.00,1089.84 L93.50,1089.71 L94.00,1089.57 L94.50,1089.40 L95.00,1089.22 L95.50,1089.03 L96.00,1088.82 L96.50,1088.59 L97.00,1088.37 L97.50,1088.15 L98.00,1087.96 L98.50,1087.80 L99.00,1087.68 L99.50,1087.61 L100.00,1087.61 L100.50,1087.66 L101.00,1087.76 L101.50,1087.90 L102.00,1088.06 L102.50,1088.24 L103.00,1088.41 L103.50,1088.57 L104.00,1088.72 L104.50,1088.85 L105.00,1088.96 L105.50,1089.05 L106.00,1089.13 L106.50,1089.18 L107.00,1089.21 L107.50,1089.22 L108.00,1089.21 L108.50,1089.18 L109.00,1089.14 L109.50,1089.07 L110.00,1088.99 L110.50,1088.88 L111.00,1088.75 L111.50,1088.60 L112.00,1088.42 L112.50,1088.22 L113.00,1088.00 L113.50,1087.75 L114.00,1087.47 L114.50,1087.18 L115.00,1086.88 L115.50,1086.58 L116.00,1086.29 L116.50,1086.03 L117.00,1085.82 L117.50,1085.68 L118.00,1085.62 L118.50,1085.63 L119.00,1085.73 L119.50,1085.88 L120.00,1086.08 L120.50,1086.30 L121.00,1086.53 L121.50,1086.76 L122.00,1086.98 L122.50,1087.17 L123.00,1087.34 L123.50,1087.48 L124.00,1087.59 L124.50,1087.67 L125.00,1087.72 L125.50,1087.75 L126.00,1087.74 L126.50,1087.71 L127.00,1087.65 L127.50,1087.56 L128.00,1087.45 L128.50,1087.30 L129.00,1087.12 L129.50,1086.91 L130.00,1086.66 L130.50,1086.38 L131.00,1086.06 L131.50,1085.70 L132.00,1085.31 L132.50,1084.89 L133.00,1084.45 L133.50,1084.00 L134.00,1083.57 L134.50,1083.18 L135.00,1082.85 L135.50,1082.61 L136.00,1082.49 L136.50,1082.48 L137.00,1082.58 L137.50,1082.78 L138.00,1083.06 L138.50,1083.38 L139.00,1083.73 L139.50,1084.07 L140.00,1084.39 L140.50,1084.69 L141.00,1084.95 L141.50,1085.16 L142.00,1085.34 L142.50,1085.47 L143.00,1085.55 L143.50,1085.60 L144.00,1085.60 L144.50,1085.57 L145.00,1085.49 L145.50,1085.37 L146.00,1085.20 L146.50,1084.99 L147.00,1084.73 L147.50,1084.43 L148.00,1084.07 L148.50,1083.65 L149.00,1083.19 L149.50,1082.66 L150.00,1082.09 L150.50,1081.48 L151.00,1080.84 L151.50,1080.20 L152.00,1079.58 L152.50,1079.02 L153.00,1078.57 L153.50,1078.25 L154.00,1078.09 L154.50,1078.11 L155.00,1078.29 L155.50,1078.60 L156.00,1079.02 L156.50,1079.51 L157.00,1080.02 L157.50,1080.52 L158.00,1080.99 L158.50,1081.42 L159.00,1081.80 L159.50,1082.11 L160.00,1082.36 L160.50,1082.55 L161.00,1082.68 L161.50,1082.74 L162.00,1082.75 L162.50,1082.69 L163.00,1082.58 L163.50,1082.40 L164.00,1082.15 L164.50,1081.85 L165.00,1081.47 L165.50,1081.02 L166.00,1080.50 L166.50,1079.90 L167.00,1079.22 L167.50,1078.47 L168.00,1077.66 L168.50,1076.79 L169.00,1075.91 L169.50,1075.04 L170.00,1074.23 L170.50,1073.54 L171.00,1073.01 L171.50,1072.70 L172.00,1072.61 L172.50,1072.76 L173.00,1073.12 L173.50,1073.64 L174.00,1074.27 L174.50,1074.96 L175.00,1075.65 L175.50,1076.32 L176.00,1076.94 L176.50,1077.48 L177.00,1077.94 L177.50,1078.31 L178.00,1078.59 L178.50,1078.78 L179.00,1078.89 L179.50,1078.91 L180.00,1078.84 L180.50,1078.68 L181.00,1078.44 L181.50,1078.10 L182.00,1077.67 L182.50,1077.14 L183.00,1076.50 L183.50,1075.76 L184.00,1074.91 L184.50,1073.95 L185.00,1072.89 L185.50,1071.73 L186.00,1070.50 L186.50,1069.24 L187.00,1068.00 L187.50,1066.85 L188.00,1065.86 L188.50,1065.10 L189.00,1064.65 L189.50,1064.53 L190.00,1064.75 L190.50,1065.27 L191.00,1066.02 L191.50,1066.94 L192.00,1067.93 L192.50,1068.95 L193.00,1069.92 L193.50,1070.81 L194.00,1071.61 L194.50,1072.28 L195.00,1072.83 L195.50,1073.26 L196.00,1073.55 L196.50,1073.72 L197.00,1073.77 L197.50,1073.69 L198.00,1073.49 L198.50,1073.15 L199.00,1072.69 L199.50,1072.10 L200.00,1071.36 L200.50,1070.48 L201.00,1069.45 L201.50,1068.27 L202.00,1066.94 L202.50,1065.47 L203.00,1063.88 L203.50,1062.22 L204.00,1060.54 L204.50,1058.91 L205.00,1057.44 L205.50,1056.23 L206.00,1055.38 L206.50,1054.96 L207.00,1054.99 L207.50,1055.47 L208.00,1056.32 L208.50,1057.45 L209.00,1058.76 L209.50,1060.13 L210.00,1061.50 L210.50,1062.79 L211.00,1063.96 L211.50,1064.98 L212.00,1065.83 L212.50,1066.52 L213.00,1067.03 L213.50,1067.37 L214.00,1067.54 L214.50,1067.54 L215.00,1067.36 L215.50,1067.02 L216.00,1066.51 L216.50,1065.81 L217.00,1064.93 L217.50,1063.86 L218.00,1062.59 L218.50,1061.12 L219.00,1059.45 L219.50,1057.60 L220.00,1055.59 L220.50,1053.46 L221.00,1051.29 L221.50,1049.17 L222.00,1047.22 L222.50,1045.59 L223.00,1044.39 L223.50,1043.73 L224.00,1043.67 L224.50,1044.18 L225.00,1045.20 L225.50,1046.61 L226.00,1048.26 L226.50,1050.03 L227.00,1051.80 L227.50,1053.48 L228.00,1055.01 L228.50,1056.34 L229.00,1057.47 L229.50,1058.37 L230.00,1059.04 L230.50,1059.48 L231.00,1059.69 L231.50,1059.67 L232.00,1059.43 L232.50,1058.96 L233.00,1058.25 L233.50,1057.30 L234.00,1056.11 L234.50,1054.65 L235.00,1052.93 L235.50,1050.95 L236.00,1048.70 L236.50,1046.22 L237.00,1043.53 L237.50,1040.70 L238.00,1037.85 L238.50,1035.09 L239.00,1032.60 L239.50,1030.56 L240.00,1029.14 L240.50,1028.45 L241.00,1028.55 L241.50,1029.39 L242.00,1030.87 L242.50,1032.82 L243.00,1035.05 L243.50,1037.40 L244.00,1039.72 L244.50,1041.90 L245.00,1043.86 L245.50,1045.56 L246.00,1046.96 L246.50,1048.07 L247.00,1048.87 L247.50,1049.36 L248.00,1049.55 L248.50,1049.43 L249.00,1049.01 L249.50,1048.27 L250.00,1047.22 L250.50,1045.84 L251.00,1044.13 L251.50,1042.07 L252.00,1039.66 L252.50,1036.90 L253.00,1033.81 L253.50,1030.43 L254.00,1026.84 L254.50,1023.15 L255.00,1019.52 L255.50,1016.16 L256.00,1013.29 L256.50,1011.14 L257.00,1009.90 L257.50,1009.67 L258.00,1010.44 L258.50,1012.10 L259.00,1014.44 L259.50,1017.24 L260.00,1020.27 L260.50,1023.31 L261.00,1026.22 L261.50,1028.88 L262.00,1031.21 L262.50,1033.17 L263.00,1034.73 L263.50,1035.90 L264.00,1036.66 L264.50,1037.02 L265.00,1036.97 L265.50,1036.52 L266.00,1035.66 L266.50,1034.39 L267.00,1032.69 L267.50,1030.55 L268.00,1027.96 L268.50,1024.91 L269.00,1021.42 L269.50,1017.50 L270.00,1013.21 L270.50,1008.65 L271.00,1003.97 L271.50,999.37 L272.00,995.12 L272.50,991.52 L273.00,988.86 L273.50,987.36 L274.00,987.15 L274.50,988.22 L275.00,990.41 L275.50,993.46 L276.00,997.09 L276.50,1000.99 L277.00,1004.90 L277.50,1008.63 L278.00,1012.02 L278.50,1015.00 L279.00,1017.49 L279.50,1019.47 L280.00,1020.94 L280.50,1021.89 L281.00,1022.32 L281.50,1022.23 L282.00,1021.62 L282.50,1020.49 L283.00,1018.81 L283.50,1016.59 L284.00,1013.80 L284.50,1010.45 L285.00,1006.52 L285.50,1002.03 L286.00,997.04 L286.50,991.63 L287.00,985.95 L287.50,980.23 L288.00,974.74 L288.50,969.85 L289.00,965.92 L289.50,963.28 L290.00,962.17 L290.50,962.67 L291.00,964.67 L291.50,967.92 L292.00,972.08 L292.50,976.77 L293.00,981.63 L293.50,986.39 L294.00,990.82 L294.50,994.77 L295.00,998.16 L295.50,1000.94 L296.00,1003.07 L296.50,1004.54 L297.00,1005.37 L297.50,1005.54 L298.00,1005.06 L298.50,1003.92 L299.00,1002.12 L299.50,999.63 L300.00,996.44 L300.50,992.54 L301.00,987.93 L301.50,982.64 L302.00,976.70 L302.50,970.23 L303.00,963.40 L303.50,956.46 L304.00,949.75 L304.50,943.69 L305.00,938.74 L305.50,935.32 L306.00,933.72 L306.50,934.07 L307.00,936.29 L307.50,940.07 L308.00,945.02 L308.50,950.67 L309.00,956.58 L309.50,962.40 L310.00,967.85 L310.50,972.73 L311.00,976.92 L311.50,980.36 L312.00,983.01 L312.50,984.85 L313.00,985.89 L313.50,986.11 L314.00,985.52 L314.50,984.11 L315.00,981.88 L315.50,978.79 L316.00,974.84 L316.50,970.03 L317.00,964.34 L317.50,957.82 L318.00,950.55 L318.50,942.67 L319.00,934.42 L319.50,926.12 L320.00,918.23 L320.50,911.27 L321.00,905.78 L321.50,902.25 L322.00,900.98 L322.50,902.07 L323.00,905.32 L323.50,910.35 L324.00,916.63 L324.50,923.61 L325.00,930.78 L325.50,937.73 L326.00,944.16 L326.50,949.84 L327.00,954.67 L327.50,958.55 L328.00,961.47 L328.50,963.40 L329.00,964.35 L329.50,964.30 L330.00,963.26 L330.50,961.22 L331.00,958.16 L331.50,954.06 L332.00,948.92 L332.50,942.73 L333.00,935.53 L333.50,927.38 L334.00,918.44 L334.50,908.93 L335.00,899.23 L335.50,889.80 L336.00,881.25 L336.50,874.21 L337.00,869.30 L337.50,866.96 L338.00,867.38 L338.50,870.45 L339.00,875.79 L339.50,882.80 L340.00,890.84 L340.50,899.29 L341.00,907.62 L341.50,915.42 L342.00,922.42 L342.50,928.42 L343.00,933.34 L343.50,937.11 L344.00,939.71 L344.50,941.14 L345.00,941.38 L345.50,940.44 L346.00,938.30 L346.50,934.95 L347.00,930.38 L347.50,924.57 L348.00,917.53 L348.50,909.30 L349.00,899.97 L349.50,889.72 L350.00,878.83 L350.50,867.74 L351.00,857.00 L351.50,847.31 L352.00,839.42 L352.50,834.02 L353.00,831.61 L353.50,832.38 L354.00,836.20 L354.50,842.57 L355.00,850.83 L355.50,860.21 L356.00,870.01 L356.50,879.62 L357.00,888.59 L357.50,896.60 L358.00,903.44 L358.50,909.01 L359.00,913.23 L359.50,916.09 L360.00,917.57 L360.50,917.67 L361.00,916.38 L361.50,913.70 L362.00,909.60 L362.50,904.08 L363.00,897.13 L363.50,888.78 L364.00,879.11 L364.50,868.25 L365.00,856.46 L365.50,844.15 L366.00,831.87 L366.50,820.33 L367.00,810.36 L367.50,802.79 L368.00,798.32 L368.50,797.37 L369.00,799.98 L369.50,805.79 L370.00,814.15 L370.50,824.21 L371.00,835.15 L371.50,846.20 L372.00,856.76 L372.50,866.40 L373.00,874.82 L373.50,881.84 L374.00,887.36 L374.50,891.34 L375.00,893.74 L375.50,894.57 L376.00,893.82 L376.50,891.47 L377.00,887.52 L377.50,881.96 L378.00,874.79 L378.50,866.03 L379.00,855.76 L379.50,844.13 L380.00,831.40 L380.50,818.01 L381.00,804.54 L381.50,791.76 L382.00,780.59 L382.50,771.94 L383.00,766.62 L383.50,765.14 L384.00,767.60 L384.50,773.66 L385.00,782.63 L385.50,793.60 L386.00,805.63 L386.50,817.87 L387.00,829.64 L387.50,840.42 L388.00,849.87 L388.50,857.77 L389.00,864.01 L389.50,868.51 L390.00,871.26 L390.50,872.24 L391.00,871.44 L391.50,868.86 L392.00,864.48 L392.50,858.30 L393.00,850.33 L393.50,840.62 L394.00,829.26 L394.50,816.46 L395.00,802.55 L395.50,788.05 L396.00,773.65 L396.50,760.26 L397.00,748.87 L397.50,740.48 L398.00,735.90 L398.50,735.58 L399.00,739.49 L399.50,747.14 L400.00,757.70 L400.50,770.15 L401.00,783.49 L401.50,796.83 L402.00,809.47 L402.50,820.91 L403.00,830.81 L403.50,838.96 L404.00,845.26 L404.50,849.65 L405.00,852.10 L405.50,852.61 L406.00,851.17 L406.50,847.78 L407.00,842.42 L407.50,835.11 L408.00,825.89 L408.50,814.84 L409.00,802.15 L409.50,788.11 L410.00,773.22 L410.50,758.14 L411.00,743.76 L411.50,731.11 L412.00,721.28 L412.50,715.21 L413.00,713.50 L413.50,716.30 L414.00,723.27 L414.50,733.61 L415.00,746.30 L415.50,760.25 L416.00,774.48 L416.50,788.18 L417.00,800.74 L417.50,811.76 L418.00,820.97 L418.50,828.24 L419.00,833.48 L419.50,836.66 L420.00,837.76 L420.50,836.79 L421.00,833.72 L421.50,828.58 L422.00,821.37 L422.50,812.13 L423.00,800.98 L423.50,788.10 L424.00,773.83 L424.50,758.68 L425.00,743.37 L425.50,728.82 L426.00,716.11 L426.50,706.37 L427.00,700.54 L427.50,699.25 L428.00,702.60 L428.50,710.19 L429.00,721.20 L429.50,734.55 L430.00,749.13 L430.50,763.91 L431.00,778.09 L431.50,791.05 L432.00,802.37 L432.50,811.81 L433.00,819.20 L433.50,824.48 L434.00,827.61 L434.50,828.58 L435.00,827.38 L435.50,824.02 L436.00,818.52 L436.50,810.89 L437.00,801.21 L437.50,789.64 L438.00,776.44 L438.50,762.01 L439.00,746.96 L439.50,732.13 L440.00,718.52 L440.50,707.26 L441.00,699.43 L441.50,695.84 L442.00,696.89 L442.50,702.46 L443.00,711.94 L443.50,724.34 L444.00,738.56 L444.50,753.51 L445.00,768.24 L445.50,782.04 L446.00,794.39 L446.50,804.94 L447.00,813.50 L447.50,819.96 L448.00,824.25 L448.50,826.36 L449.00,826.29 L449.50,824.04 L450.00,819.62 L450.50,813.06 L451.00,804.44 L451.50,793.89 L452.00,781.66 L452.50,768.13 L453.00,753.86 L453.50,739.64 L454.00,726.44 L454.50,715.35 L455.00,707.44 L455.50,703.55 L456.00,704.16 L456.50,709.20 L457.00,718.15 L457.50,730.10 L458.00,743.96 L458.50,758.66 L459.00,773.27 L459.50,787.04 L460.00,799.44 L460.50,810.13 L461.00,818.88 L461.50,825.58 L462.00,830.17 L462.50,832.63 L463.00,832.96 L463.50,831.16 L464.00,827.26 L464.50,821.31 L465.00,813.38 L465.50,803.63 L466.00,792.33 L466.50,779.89 L467.00,766.88 L467.50,754.10 L468.00,742.49 L468.50,733.09 L469.00,726.86 L469.50,724.54 L470.00,726.44 L470.50,732.39 L471.00,741.79 L471.50,753.75 L472.00,767.22 L472.50,781.23 L473.00,794.94 L473.50,807.72 L474.00,819.11 L474.50,828.81 L475.00,836.66 L475.50,842.56 L476.00,846.46 L476.50,848.37 L477.00,848.27 L477.50,846.20 L478.00,842.18 L478.50,836.29 L479.00,828.65 L479.50,819.47 L480.00,809.05 L480.50,797.89 L481.00,786.62 L481.50,776.07 L482.00,767.15 L482.50,760.78 L483.00,757.72 L483.50,758.39 L484.00,762.80 L484.50,770.55 L485.00,780.90 L485.50,792.94 L486.00,805.76 L486.50,818.55 L487.00,830.68 L487.50,841.69 L488.00,851.25 L488.50,859.19 L489.00,865.40 L489.50,869.83 L490.00,872.47 L490.50,873.33 L491.00,872.41 L491.50,869.78 L492.00,865.48 L492.50,859.64 L493.00,852.44 L493.50,844.16 L494.00,835.22 L494.50,826.18 L495.00,817.74 L495.50,810.69 L496.00,805.81 L496.50,803.73 L497.00,804.81 L497.50,809.04 L498.00,816.06 L498.50,825.25 L499.00,835.84 L499.50,847.05 L500.00,858.22 L500.50,868.80 L501.00,878.42 L501.50,886.82 L502.00,893.84 L502.50,899.40 L503.00,903.47 L503.50,906.05 L504.00,907.14 L504.50,906.77 L505.00,904.99 L505.50,901.88 L506.00,897.54 L506.50,892.18 L507.00,886.04 L507.50,879.53 L508.00,873.12 L508.50,867.43 L509.00,863.06 L509.50,860.61 L510.00,860.50 L510.50,862.87 L511.00,867.62 L511.50,874.36 L512.00,882.54 L512.50,891.55 L513.00,900.81 L513.50,909.85 L514.00,918.31 L514.50,925.93 L515.00,932.55 L515.50,938.09 L516.00,942.52 L516.50,945.81 L517.00,947.98 L517.50,949.06 L518.00,949.09 L518.50,948.11 L519.00,946.21 L519.50,943.52 L520.00,940.22 L520.50,936.55 L521.00,932.86 L521.50,929.53 L522.00,927.00 L522.50,925.67 L523.00,925.86 L523.50,927.71 L524.00,931.18 L524.50,936.03 L525.00,941.93 L525.50,948.46 L526.00,955.24 L526.50,961.93 L527.00,968.29 L527.50,974.14 L528.00,979.37 L528.50,983.92 L529.00,987.77 L529.50,990.92 L530.00,993.38 L530.50,995.19 L531.00,996.36 L531.50,996.94 L532.00,996.99 L532.50,996.58 L533.00,995.82 L533.50,994.85 L534.00,993.84 L534.50,992.98 L535.00,992.49 L535.50,992.57 L536.00,993.35 L536.50,994.89 L537.00,997.15 L537.50,1000.02 L538.00,1003.31 L538.50,1006.86 L539.00,1010.48 L539.50,1014.04 L540.00,1017.42 L540.50,1020.55 L541.00,1023.41 L541.50,1025.97 L542.00,1028.23 L542.50,1030.19 L543.00,1031.88 L543.50,1033.30 L544.00,1034.47 L544.50,1035.41 L545.00,1036.11 L545.50,1036.60 L546.00,1036.88 L546.50,1036.95 L547.00,1036.82 L547.50,1036.47 L548.00,1035.92 L548.50,1035.15 L549.00,1034.16 L549.50,1032.95 L550.00,1031.51 L550.50,1029.85 L551.00,1027.97 L551.50,1025.92 L552.00,1023.72 L552.50,1021.45 L553.00,1019.20 L553.50,1017.07 L554.00,1015.18 L554.50,1013.62 L555.00,1012.45 L555.50,1011.70 L556.00,1011.32 L556.50,1011.20 L557.00,1011.24 L557.50,1011.29 L558.00,1011.23 L558.50,1010.94 L559.00,1010.34 L559.50,1009.36 L560.00,1007.94 L560.50,1006.04 L561.00,1003.63 L561.50,1000.67 L562.00,997.17 L562.50,993.10 L563.00,988.49 L563.50,983.39 L564.00,977.88 L564.50,972.10 L565.00,966.27 L565.50,960.64 L566.00,955.53 L566.50,951.26 L567.00,948.09 L567.50,946.20 L568.00,945.60 L568.50,946.14 L569.00,947.57 L569.50,949.53 L570.00,951.68 L570.50,953.69 L571.00,955.30 L571.50,956.29 L572.00,956.52 L572.50,955.87 L573.00,954.28 L573.50,951.70 L574.00,948.11 L574.50,943.49 L575.00,937.88 L575.50,931.34 L576.00,924.00 L576.50,916.07 L577.00,907.83 L577.50,899.70 L578.00,892.14 L578.50,885.70 L579.00,880.84 L579.50,877.91 L580.00,877.04 L580.50,878.11 L581.00,880.79 L581.50,884.56 L582.00,888.88 L582.50,893.22 L583.00,897.12 L583.50,900.24 L584.00,902.29 L584.50,903.12 L585.00,902.59 L585.50,900.64 L586.00,897.23 L586.50,892.36 L587.00,886.06 L587.50,878.45 L588.00,869.70 L588.50,860.08 L589.00,850.01 L589.50,840.02 L590.00,830.77 L590.50,822.95 L591.00,817.21 L591.50,814.01 L592.00,813.54 L592.50,815.63 L593.00,819.84 L593.50,825.51 L594.00,831.91 L594.50,838.35 L595.00,844.24 L595.50,849.09 L596.00,852.59 L596.50,854.50 L597.00,854.67 L597.50,853.01 L598.00,849.51 L598.50,844.17 L599.00,837.08 L599.50,828.40 L600.00,818.39 L600.50,807.46 L601.00,796.16 L601.50,785.20 L602.00,775.39 L602.50,767.58 L603.00,762.47 L603.50,760.48 L604.00,761.69 L604.50,765.75 L605.00,772.03 L605.50,779.68 L606.00,787.85 L606.50,795.76 L607.00,802.75 L607.50,808.35 L608.00,812.20 L608.50,814.09 L609.00,813.87 L609.50,811.50 L610.00,806.98 L610.50,800.38 L611.00,791.86 L611.50,781.71 L612.00,770.34 L612.50,758.36 L613.00,746.52 L613.50,735.75 L614.00,726.97 L614.50,721.04 L615.00,718.51 L615.50,719.55 L616.00,723.87 L616.50,730.81 L617.00,739.46 L617.50,748.86 L618.00,758.11 L618.50,766.44 L619.00,773.28 L619.50,778.22 L620.00,780.99 L620.50,781.43 L621.00,779.47 L621.50,775.12 L622.00,768.48 L622.50,759.75 L623.00,749.25 L623.50,737.49 L624.00,725.16 L624.50,713.11 L625.00,702.36 L625.50,693.91 L626.00,688.64 L626.50,687.08 L627.00,689.30 L627.50,694.92 L628.00,703.16 L628.50,713.02 L629.00,723.45 L629.50,733.52 L630.00,742.46 L630.50,749.66 L631.00,754.75 L631.50,757.44 L632.00,757.62 L632.50,755.23 L633.00,750.33 L633.50,743.07 L634.00,733.76 L634.50,722.83 L635.00,710.92 L635.50,698.86 L636.00,687.64 L636.50,678.35 L637.00,671.95 L637.50,669.17 L638.00,670.28 L638.50,675.09 L639.00,682.93 L639.50,692.84 L640.00,703.74 L640.50,714.61 L641.00,724.56 L641.50,732.93 L642.00,739.23 L642.50,743.14 L643.00,744.48 L643.50,743.18 L644.00,739.30 L644.50,732.98 L645.00,724.51 L645.50,714.34 L646.00,703.12 L646.50,691.67 L647.00,681.01 L647.50,672.21 L648.00,666.25 L648.50,663.86 L649.00,665.33 L649.50,670.45 L650.00,678.56 L650.50,688.70 L651.00,699.80 L651.50,710.84 L652.00,720.94 L652.50,729.42 L653.00,735.80 L653.50,739.78 L654.00,741.19 L654.50,739.98 L655.00,736.22 L655.50,730.11 L656.00,721.99 L656.50,712.37 L657.00,701.95 L657.50,691.63 L658.00,682.41 L658.50,675.35 L659.00,671.31 L659.50,670.86 L660.00,674.07 L660.50,680.58 L661.00,689.59 L661.50,700.13 L662.00,711.15 L662.50,721.70 L663.00,731.03 L663.50,738.55 L664.00,743.87 L664.50,746.77 L665.00,747.15 L665.50,745.04 L666.00,740.58 L666.50,734.07 L667.00,725.95 L667.50,716.87 L668.00,707.62 L668.50,699.16 L669.00,692.47 L669.50,688.45 L670.00,687.67 L670.50,690.32 L671.00,696.13 L671.50,704.43 L672.00,714.30 L672.50,724.76 L673.00,734.91 L673.50,743.98 L674.00,751.41 L674.50,756.79 L675.00,759.89 L675.50,760.63 L676.00,759.01 L676.50,755.21 L677.00,749.51 L677.50,742.36 L678.00,734.40 L678.50,726.40 L679.00,719.28 L679.50,713.94 L680.00,711.16 L680.50,711.43 L681.00,714.82 L681.50,720.99 L682.00,729.28 L682.50,738.80 L683.00,748.65 L683.50,758.02 L684.00,766.24 L684.50,772.82 L685.00,777.43 L685.50,779.90 L686.00,780.19 L686.50,778.37 L687.00,774.65 L687.50,769.38 L688.00,763.07 L688.50,756.36 L689.00,750.07 L689.50,745.01 L690.00,741.96 L690.50,741.47 L691.00,743.77 L691.50,748.70 L692.00,755.74 L692.50,764.16 L693.00,773.16 L693.50,781.95 L694.00,789.88 L694.50,796.45 L695.00,801.32 L695.50,804.30 L696.00,805.33 L696.50,804.45 L697.00,801.84 L697.50,797.81 L698.00,792.80 L698.50,787.42 L699.00,782.35 L699.50,778.33 L700.00,776.06 L700.50,776.00 L701.00,778.36 L701.50,782.99 L702.00,789.42 L702.50,797.03 L703.00,805.08 L703.50,812.89 L704.00,819.91 L704.50,825.69 L705.00,829.95 L705.50,832.54 L706.00,833.41 L706.50,832.65 L707.00,830.43 L707.50,827.09 L708.00,823.06 L708.50,818.90 L709.00,815.25 L709.50,812.73 L710.00,811.88 L710.50,813.02 L711.00,816.18 L711.50,821.12 L712.00,827.37 L712.50,834.32 L713.00,841.37 L713.50,847.95 L714.00,853.64 L714.50,858.13 L715.00,861.22 L715.50,862.85 L716.00,863.04 L716.50,861.93 L717.00,859.77 L717.50,856.91 L718.00,853.82 L718.50,851.01 L719.00,849.05 L719.50,848.39 L720.00,849.35 L720.50,852.00 L721.00,856.16 L721.50,861.46 L722.00,867.40 L722.50,873.46 L723.00,879.18 L723.50,884.16 L724.00,888.14 L724.50,890.96 L725.00,892.54 L725.50,892.92 L726.00,892.24 L726.50,890.70 L727.00,888.64 L727.50,886.45 L728.00,884.58 L728.50,883.48 L729.00,883.51 L729.50,884.88 L730.00,887.60 L730.50,891.48 L731.00,896.17 L731.50,901.25 L732.00,906.29 L732.50,910.93 L733.00,914.87 L733.50,917.92 L734.00,919.98 L734.50,921.03 L735.00,921.13 L735.50,920.44 L736.00,919.19 L736.50,917.69 L737.00,916.31 L737.50,915.41 L738.00,915.33 L738.50,916.29 L739.00,918.34 L739.50,921.40 L740.00,925.19 L740.50,929.40 L741.00,933.68 L741.50,937.69 L742.00,941.18 L742.50,943.98 L743.00,945.99 L743.50,947.17 L744.00,947.58 L744.50,947.34 L745.00,946.65 L745.50,945.75 L746.00,944.94 L746.50,944.53 L747.00,944.76 L747.50,945.82 L748.00,947.74 L748.50,950.42 L749.00,953.65 L749.50,957.17 L750.00,960.70 L750.50,963.98 L751.00,966.82 L751.50,969.09 L752.00,970.71 L752.50,971.69 L753.00,972.09 L753.50,972.02 L754.00,971.67 L754.50,971.24 L755.00,970.97 L755.50,971.10 L756.00,971.80 L756.50,973.14 L757.00,975.10 L757.50,977.56 L758.00,980.33 L758.50,983.19 L759.00,985.93 L759.50,988.38 L760.00,990.41 L760.50,991.95 L761.00,992.99 L761.50,993.56 L762.00,993.76 L762.50,993.70 L763.00,993.55 L763.50,993.50 L764.00,993.74 L764.50,994.38 L765.00,995.51 L765.50,997.12 L766.00,999.10 L766.50,1001.31 L767.00,1003.60 L767.50,1005.78 L768.00,1007.74 L768.50,1009.37 L769.00,1010.63 L769.50,1011.51 L770.00,1012.04 L770.50,1012.30 L771.00,1012.40 L771.50,1012.47 L772.00,1012.65 L772.50,1013.08 L773.00,1013.84 L773.50,1014.97 L774.00,1016.43 L774.50,1018.13 L775.00,1019.96 L775.50,1021.79 L776.00,1023.49 L776.50,1024.99 L777.00,1026.23 L777.50,1027.17 L778.00,1027.85 L778.50,1028.29 L779.00,1028.58 L779.50,1028.80 L780.00,1029.07 L780.50,1029.49 L781.00,1030.11 L781.50,1030.99 L782.00,1032.09 L782.50,1033.38 L783.00,1034.76 L783.50,1036.14 L784.00,1037.43 L784.50,1038.57 L785.00,1039.52 L785.50,1040.26 L786.00,1040.80 L786.50,1041.17 L787.00,1041.44 L787.50,1041.68 L788.00,1041.97 L788.50,1042.38 L789.00,1042.96 L789.50,1043.73 L790.00,1044.66 L790.50,1045.72 L791.00,1046.83 L791.50,1047.92 L792.00,1048.94 L792.50,1049.83 L793.00,1050.58 L793.50,1051.17 L794.00,1051.63 L794.50,1051.99 L795.00,1052.29 L795.50,1052.60 L796.00,1052.96 L796.50,1053.42 L797.00,1054.00 L797.50,1054.69 L798.00,1055.47 L798.50,1056.30 L799.00,1057.12 L799.50,1057.89 L800.00,1058.57 L800.50,1059.15 L801.00,1059.63 L801.50,1060.00 L802.00,1060.31 L802.50,1060.57 L803.00,1060.84 L803.50,1061.16 L804.00,1061.55 L804.50,1062.03 L805.00,1062.59 L805.50,1063.22 L806.00,1063.87 L806.50,1064.52 L807.00,1065.12 L807.50,1065.66 L808.00,1066.13 L808.50,1066.52 L809.00,1066.85 L809.50,1067.13 L810.00,1067.39 L810.50,1067.67 L811.00,1067.98 L811.50,1068.34 L812.00,1068.75 L812.50,1069.20 L813.00,1069.68 L813.50,1070.16 L814.00,1070.61 L814.50,1071.02 L815.00,1071.38 L815.50,1071.69 L816.00,1071.95 L816.50,1072.18 L817.00,1072.40 L817.50,1072.63 L818.00,1072.88 L818.50,1073.18 L819.00,1073.51 L819.50,1073.88 L820.00,1074.27 L820.50,1074.67 L821.00,1075.05 L821.50,1075.40 L822.00,1075.71 L822.50,1075.99 L823.00,1076.24 L823.50,1076.47 L824.00,1076.69 L824.50,1076.92 L825.00,1077.17 L825.50,1077.44 L826.00,1077.74 L826.50,1078.06 L827.00,1078.38 L827.50,1078.70 L828.00,1079.00 L828.50,1079.29 L829.00,1079.55 L829.50,1079.79 L830.00,1080.03 L830.50,1080.26 L831.00,1080.51 L831.50,1080.77 L832.00,1081.07 L832.50,1081.38 L833.00,1081.72 L833.50,1082.07 L834.00,1082.42 L834.50,1082.78 L835.00,1083.12 L835.50,1083.44 L836.00,1083.75 L836.50,1084.04 L837.00,1084.31 L837.50,1084.55 L838.00,1084.78 L838.50,1084.99 L839.00,1085.19 L839.50,1085.37 L840.00,1085.54 L840.50,1085.70 L841.00,1085.84 L841.50,1085.98 L842.00,1086.11 L842.50,1086.23 L843.00,1086.34 L843.50,1086.44 L844.00,1086.55 L844.50,1086.64 L845.00,1086.73 L845.50,1086.82 L846.00,1086.90 L846.50,1086.98 L847.00,1087.05 L847.50,1087.12 L848.00,1087.19 L848.50,1087.26 L849.00,1087.32 L849.50,1087.38 L850.00,1087.44 L850.50,1087.50 L851.00,1087.55 L851.50,1087.61 L852.00,1087.66 L852.50,1087.71 L853.00,1087.75 L853.50,1087.80 L854.00,1087.85 L854.50,1087.89 L855.00,1087.93 L855.50,1087.97 L856.00,1088.01 L856.50,1088.05 L857.00,1088.09 L857.50,1088.13 L858.00,1088.16 L858.50,1088.20 L859.00,1088.23 L859.50,1088.27 L860.00,1088.30 L860.50,1088.33 L861.00,1088.36 L861.50,1088.39 L862.00,1088.42 L862.50,1088.45 L863.00,1088.48 L863.50,1088.51 L864.00,1088.53 L864.50,1088.56 L865.00,1088.59 L865.50,1088.61 L866.00,1088.64 L866.50,1088.66 L867.00,1088.68 L867.50,1088.71 L868.00,1088.73 L868.50,1088.75 L869.00,1088.77 L869.50,1088.79 L870.00,1088.81 L870.50,1088.83 L871.00,1088.85 L871.50,1088.87 L872.00,1088.89 L872.50,1088.91 L873.00,1088.92 L873.50,1088.94 L874.00,1088.96 L874.50,1088.97 L875.00,1088.99 L875.50,1089.01 L876.00,1089.02 L876.50,1089.03 L877.00,1089.05 L877.50,1089.06 L878.00,1089.07 L878.50,1089.09 L879.00,1089.10 L879.50,1089.11 L880.00,1089.12 L880.50,1089.13 L881.00,1089.14 L881.50,1089.15 L882.00,1089.16 L882.50,1089.17 L883.00,1089.18 L883.50,1089.19 L884.00,1089.20 L884.50,1089.20 L885.00,1089.21 L885.50,1089.21 L886.00,1089.22 L886.50,1089.22 L887.00,1089.23 L887.50,1089.23 L888.00,1089.23 L888.50,1089.23 L889.00,1089.23 L889.50,1089.23 L890.00,1089.23 L890.50,1089.23 L891.00,1089.23 L891.50,1089.22 L892.00,1089.22 L892.50,1089.21 L893.00,1089.20 L893.50,1089.19 L894.00,1089.18 L894.50,1089.17 L895.00,1089.15 L895.50,1089.13 L896.00,1089.11 L896.50,1089.09 L897.00,1089.07 L897.50,1089.04 L898.00,1089.00 L898.50,1088.97 L899.00,1088.93 L899.50,1088.88 L900.00,1088.83 L900.50,1088.77 L901.00,1088.70 L901.50,1088.63 L902.00,1088.54 L902.50,1088.45 L903.00,1088.34 L903.50,1088.23 L904.00,1088.10 L904.50,1087.95 L905.00,1087.80 L905.50,1087.63 L906.00,1087.45 L906.50,1087.27 L907.00,1087.10 L907.50,1086.93 L908.00,1086.79 L908.50,1086.68 L909.00,1086.61 L909.50,1086.59 L910.00,1086.62 L910.50,1086.69 L911.00,1086.79 L911.50,1086.92 L912.00,1087.06 L912.50,1087.21 L913.00,1087.35 L913.50,1087.48 L914.00,1087.60 L914.50,1087.70 L915.00,1087.79 L915.50,1087.86 L916.00,1087.92 L916.50,1087.96 L917.00,1087.98 L917.50,1087.99 L918.00,1087.99 L918.50,1087.96 L919.00,1087.93 L919.50,1087.87 L920.00,1087.80 L920.50,1087.72 L921.00,1087.61 L921.50,1087.48 L922.00,1087.34 L922.50,1087.17 L923.00,1086.98 L923.50,1086.78 L924.00,1086.55 L924.50,1086.31 L925.00,1086.06 L925.50,1085.81 L926.00,1085.58 L926.50,1085.37 L927.00,1085.21 L927.50,1085.11 L928.00,1085.08 L928.50,1085.11 L929.00,1085.21 L929.50,1085.36 L930.00,1085.55 L930.50,1085.76 L931.00,1085.97 L931.50,1086.18 L932.00,1086.38 L932.50,1086.56 L933.00,1086.72 L933.50,1086.85 L934.00,1086.97 L934.50,1087.05 L935.00,1087.12 L935.50,1087.16 L936.00,1087.18 L936.50,1087.18 L937.00,1087.15 L937.50,1087.11 L938.00,1087.04 L938.50,1086.95 L939.00,1086.83 L939.50,1086.69 L940.00,1086.53 L940.50,1086.33 L941.00,1086.11 L941.50,1085.86 L942.00,1085.58 L942.50,1085.27 L943.00,1084.95 L943.50,1084.62 L944.00,1084.30 L944.50,1084.00 L945.00,1083.74 L945.50,1083.54 L946.00,1083.43 L946.50,1083.40 L947.00,1083.46 L947.50,1083.60 L948.00,1083.81 L948.50,1084.06 L949.00,1084.33 L949.50,1084.61 L950.00,1084.88 L950.50,1085.13 L951.00,1085.35 L951.50,1085.54 L952.00,1085.71 L952.50,1085.84 L953.00,1085.94 L953.50,1086.00 L954.00,1086.04 L954.50,1086.05 L955.00,1086.03 L955.50,1085.97 L956.00,1085.89 L956.50,1085.78 L957.00,1085.63 L957.50,1085.45 L958.00,1085.24 L958.50,1084.98 L959.00,1084.69 L959.50,1084.36 L960.00,1083.99 L960.50,1083.59 L961.00,1083.16 L961.50,1082.71 L962.00,1082.26 L962.50,1081.83 L963.00,1081.44 L963.50,1081.13 L964.00,1080.92 L964.50,1080.83 L965.00,1080.86 L965.50,1081.00 L966.00,1081.24 L966.50,1081.55 L967.00,1081.91 L967.50,1082.28 L968.00,1082.64 L968.50,1082.98 L969.00,1083.29 L969.50,1083.56 L970.00,1083.78 L970.50,1083.96 L971.00,1084.10 L971.50,1084.19 L972.00,1084.25 L972.50,1084.25 L973.00,1084.22 L973.50,1084.14 L974.00,1084.02 L974.50,1083.85 L975.00,1083.64 L975.50,1083.38 L976.00,1083.07 L976.50,1082.71 L977.00,1082.29 L977.50,1081.81 L978.00,1081.28 L978.50,1080.70 L979.00,1080.07 L979.50,1079.43 L980.00,1078.77 L980.50,1078.15 L981.00,1077.59 L981.50,1077.13 L982.00,1076.82 L982.50,1076.68 L983.00,1076.71 L983.50,1076.91 L984.00,1077.25 L984.50,1077.69 L985.00,1078.19 L985.50,1078.72 L986.00,1079.24 L986.50,1079.73 L987.00,1080.17 L987.50,1080.56 L988.00,1080.88 L988.50,1081.14 L989.00,1081.34 L989.50,1081.47 L990.00,1081.53 L990.50,1081.54 L991.00,1081.48 L991.50,1081.36 L992.00,1081.18 L992.50,1080.93 L993.00,1080.61 L993.50,1080.22 L994.00,1079.76 L994.50,1079.21 L995.00,1078.59 L995.50,1077.89 L996.00,1077.10 L996.50,1076.25 L997.00,1075.35 L997.50,1074.41 L998.00,1073.49 L998.50,1072.62 L999.00,1071.86 L999.50,1071.28 L1000.00,1070.91 L1000.50,1070.80 L1001.00,1070.93 L1001.50,1071.30 L1002.00,1071.85 L1002.50,1072.54 L1003.00,1073.29 L1003.50,1074.07 L1004.00,1074.82 L1004.50,1075.53 L1005.00,1076.15 L1005.50,1076.70 L1006.00,1077.16 L1006.50,1077.52 L1007.00,1077.79 L1007.50,1077.98 L1008.00,1078.07 L1008.50,1078.08 L1009.00,1078.00 L1009.50,1077.83 L1010.00,1077.57 L1010.50,1077.22 L1011.00,1076.78 L1011.50,1076.23 L1012.00,1075.59 L1012.50,1074.83 L1013.00,1073.97 L1013.50,1073.01 L1014.00,1071.94 L1014.50,1070.80 L1015.00,1069.61 L1015.50,1068.41 L1016.00,1067.27 L1016.50,1066.25 L1017.00,1065.42 L1017.50,1064.85 L1018.00,1064.60 L1018.50,1064.68 L1019.00,1065.06 L1019.50,1065.71 L1020.00,1066.54 L1020.50,1067.48 L1021.00,1068.47 L1021.50,1069.44 L1022.00,1070.35 L1022.50,1071.17 L1023.00,1071.88 L1023.50,1072.48 L1024.00,1072.96 L1024.50,1073.31 L1025.00,1073.54 L1025.50,1073.65 L1026.00,1073.64 L1026.50,1073.52 L1027.00,1073.27 L1027.50,1072.90 L1028.00,1072.40 L1028.50,1071.77 L1029.00,1071.01 L1029.50,1070.10 L1030.00,1069.05 L1030.50,1067.85 L1031.00,1066.50 L1031.50,1065.02 L1032.00,1063.44 L1032.50,1061.79 L1033.00,1060.14 L1033.50,1058.57 L1034.00,1057.18 L1034.50,1056.06 L1035.00,1055.32 L1035.50,1055.02 L1036.00,1055.16 L1036.50,1055.73 L1037.00,1056.65 L1037.50,1057.82 L1038.00,1059.14 L1038.50,1060.51 L1039.00,1061.85 L1039.50,1063.11 L1040.00,1064.24 L1040.50,1065.22 L1041.00,1066.04 L1041.50,1066.70 L1042.00,1067.18 L1042.50,1067.50 L1043.00,1067.65 L1043.50,1067.63 L1044.00,1067.45 L1044.50,1067.11 L1045.00,1066.60 L1045.50,1065.91 L1046.00,1065.04 L1046.50,1063.99 L1047.00,1062.74 L1047.50,1061.29 L1048.00,1059.65 L1048.50,1057.82 L1049.00,1055.83 L1049.50,1053.72 L1050.00,1051.56 L1050.50,1049.44 L1051.00,1047.48 L1051.50,1045.82 L1052.00,1044.57 L1052.50,1043.86 L1053.00,1043.74 L1053.50,1044.21 L1054.00,1045.18 L1054.50,1046.56 L1055.00,1048.21 L1055.50,1049.98 L1056.00,1051.78 L1056.50,1053.49 L1057.00,1055.07 L1057.50,1056.46 L1058.00,1057.64 L1058.50,1058.60 L1059.00,1059.34 L1059.50,1059.85 L1060.00,1060.14 L1060.50,1060.21 L1061.00,1060.06 L1061.50,1059.69 L1062.00,1059.09 L1062.50,1058.26 L1063.00,1057.19 L1063.50,1055.88 L1064.00,1054.30 L1064.50,1052.47 L1065.00,1050.38 L1065.50,1048.04 L1066.00,1045.48 L1066.50,1042.75 L1067.00,1039.94 L1067.50,1037.16 L1068.00,1034.56 L1068.50,1032.32 L1069.00,1030.61 L1069.50,1029.58 L1070.00,1029.32 L1070.50,1029.82 L1071.00,1031.02 L1071.50,1032.77 L1072.00,1034.90 L1072.50,1037.22 L1073.00,1039.59 L1073.50,1041.87 L1074.00,1043.97 L1074.50,1045.84 L1075.00,1047.44 L1075.50,1048.75 L1076.00,1049.76 L1076.50,1050.48 L1077.00,1050.90 L1077.50,1051.03 L1078.00,1050.88 L1078.50,1050.43 L1079.00,1049.68 L1079.50,1048.63 L1080.00,1047.26 L1080.50,1045.57 L1081.00,1043.55 L1081.50,1041.20 L1082.00,1038.51 L1082.50,1035.50 L1083.00,1032.23 L1083.50,1028.77 L1084.00,1025.22 L1084.50,1021.75 L1085.00,1018.57 L1085.50,1015.89 L1086.00,1013.93 L1086.50,1012.86 L1087.00,1012.77 L1087.50,1013.65 L1088.00,1015.36 L1088.50,1017.72 L1089.00,1020.50 L1089.50,1023.47 L1090.00,1026.46 L1090.50,1029.30 L1091.00,1031.89 L1091.50,1034.16 L1092.00,1036.09 L1092.50,1037.64 L1093.00,1038.81 L1093.50,1039.60 L1094.00,1040.01 L1094.50,1040.04 L1095.00,1039.70 L1095.50,1038.98 L1096.00,1037.88 L1096.50,1036.37 L1097.00,1034.46 L1097.50,1032.13 L1098.00,1029.38 L1098.50,1026.19 L1099.00,1022.60 L1099.50,1018.64 L1100.00,1014.39 L1100.50,1009.98 L1101.00,1005.59 L1101.50,1001.45 L1102.00,997.84 L1102.50,995.03 L1103.00,993.27 L1103.50,992.72 L1104.00,993.39 L1104.50,995.19 L1105.00,997.89 L1105.50,1001.22 L1106.00,1004.90 L1106.50,1008.66 L1107.00,1012.30 L1107.50,1015.67 L1108.00,1018.67 L1108.50,1021.23 L1109.00,1023.32 L1109.50,1024.94 L1110.00,1026.07 L1110.50,1026.72 L1111.00,1026.88 L1111.50,1026.57 L1112.00,1025.77 L1112.50,1024.48 L1113.00,1022.69 L1113.50,1020.39 L1114.00,1017.55 L1114.50,1014.18 L1115.00,1010.27 L1115.50,1005.85 L1116.00,1000.97 L1116.50,995.73 L1117.00,990.30 L1117.50,984.88 L1118.00,979.79 L1118.50,975.36 L1119.00,971.94 L1119.50,969.83 L1120.00,969.21 L1120.50,970.11 L1121.00,972.39 L1121.50,975.78 L1122.00,979.94 L1122.50,984.52 L1123.00,989.19 L1123.50,993.70 L1124.00,997.87 L1124.50,1001.56 L1125.00,1004.71 L1125.50,1007.28 L1126.00,1009.24 L1126.50,1010.59 L1127.00,1011.34 L1127.50,1011.49 L1128.00,1011.03 L1128.50,1009.96 L1129.00,1008.27 L1129.50,1005.95 L1130.00,1002.98 L1130.50,999.35 L1131.00,995.06 L1131.50,990.11 L1132.00,984.56 L1132.50,978.49 L1133.00,972.05 L1133.50,965.46 L1134.00,959.05 L1134.50,953.20 L1135.00,948.33 L1135.50,944.85 L1136.00,943.08 L1136.50,943.16 L1137.00,945.03 L1137.50,948.45 L1138.00,953.05 L1138.50,958.39 L1139.00,964.05 L1139.50,969.69 L1140.00,975.01 L1140.50,979.83 L1141.00,984.04 L1141.50,987.54 L1142.00,990.32 L1142.50,992.35 L1143.00,993.64 L1143.50,994.18 L1144.00,993.97 L1144.50,993.02 L1145.00,991.31 L1145.50,988.83 L1146.00,985.57 L1146.50,981.50 L1147.00,976.63 L1147.50,970.96 L1148.00,964.55 L1148.50,957.48 L1149.00,949.93 L1149.50,942.16 L1150.00,934.51 L1150.50,927.44 L1151.00,921.45 L1151.50,917.04 L1152.00,914.61 L1152.50,914.36 L1153.00,916.28 L1153.50,920.10 L1154.00,925.40 L1154.50,931.67 L1155.00,938.39 L1155.50,945.13 L1156.00,951.54 L1156.50,957.38 L1157.00,962.50 L1157.50,966.78 L1158.00,970.19 L1158.50,972.70 L1159.00,974.30 L1159.50,975.01 L1160.00,974.81 L1160.50,973.71 L1161.00,971.69 L1161.50,968.74 L1162.00,964.84 L1162.50,959.97 L1163.00,954.15 L1163.50,947.39 L1164.00,939.76 L1164.50,931.39 L1165.00,922.50 L1165.50,913.43 L1166.00,904.62 L1166.50,896.62 L1167.00,890.04 L1167.50,885.43 L1168.00,883.23 L1168.50,883.61 L1169.00,886.49 L1169.50,891.49 L1170.00,898.08 L1170.50,905.65 L1171.00,913.62 L1171.50,921.49 L1172.00,928.90 L1172.50,935.58 L1173.00,941.35 L1173.50,946.12 L1174.00,949.85 L1174.50,952.51 L1175.00,954.09 L1175.50,954.61 L1176.00,954.04 L1176.50,952.40 L1177.00,949.66 L1177.50,945.82 L1178.00,940.84 L1178.50,934.74 L1179.00,927.54 L1179.50,919.28 L1180.00,910.09 L1180.50,900.20 L1181.00,889.93 L1181.50,879.76 L1182.00,870.27 L1182.50,862.16 L1183.00,856.09 L1183.50,852.62 L1184.00,852.08 L1184.50,854.45 L1185.00,859.43 L1185.50,866.46 L1186.00,874.84 L1186.50,883.90 L1187.00,893.03 L1187.50,901.75 L1188.00,909.70 L1188.50,916.66 L1189.00,922.50 L1189.50,927.14 L1190.00,930.54 L1190.50,932.70 L1191.00,933.60 L1191.50,933.26 L1192.00,931.66 L1192.50,928.79 L1193.00,924.63 L1193.50,919.18 L1194.00,912.43 L1194.50,904.41 L1195.00,895.19 L1195.50,884.92 L1196.00,873.85 L1196.50,862.38 L1197.00,851.04 L1197.50,840.51 L1198.00,831.57 L1198.50,824.97 L1199.00,821.33 L1199.50,820.99 L1200.00,823.92 L1200.50,829.75 L1201.00,837.84 L1201.50,847.40 L1202.00,857.67 L1202.50,867.96 L1203.00,877.75 L1203.50,886.65 L1204.00,894.41 L1204.50,900.87 L1205.00,905.97 L1205.50,909.65 L1206.00,911.91 L1206.50,912.74 L1207.00,912.14 L1207.50,910.10 L1208.00,906.61 L1208.50,901.66 L1209.00,895.23 L1209.50,887.36 L1210.00,878.08 L1210.50,867.52 L1211.00,855.90 L1211.50,843.57 L1212.00,831.03 L1212.50,818.97 L1213.00,808.18 L1213.50,799.55 L1214.00,793.85 L1214.50,791.63 L1215.00,793.09 L1215.50,798.00 L1216.00,805.78 L1216.50,815.65 L1217.00,826.72 L1217.50,838.18 L1218.00,849.36 L1218.50,859.75 L1219.00,868.99 L1219.50,876.86 L1220.00,883.24 L1220.50,888.07 L1221.00,891.31 L1221.50,892.95 L1222.00,892.99 L1222.50,891.43 L1223.00,888.25 L1223.50,883.45 L1224.00,877.02 L1224.50,868.99 L1225.00,859.40 L1225.50,848.37 L1226.00,836.15 L1226.50,823.08 L1227.00,809.70 L1227.50,796.73 L1228.00,785.04 L1228.50,775.55 L1229.00,769.14 L1229.50,766.43 L1230.00,767.68 L1230.50,772.69 L1231.00,780.88 L1231.50,791.40 L1232.00,803.30 L1232.50,815.71 L1233.00,827.86 L1233.50,839.19 L1234.00,849.31 L1234.50,857.95 L1235.00,864.97 L1235.50,870.29 L1236.00,873.87 L1236.50,875.71 L1237.00,875.80 L1237.50,874.14 L1238.00,870.71 L1238.50,865.51 L1239.00,858.55 L1239.50,849.86 L1240.00,839.52 L1240.50,827.70 L1241.00,814.68 L1241.50,800.90 L1242.00,787.00 L1242.50,773.77 L1243.00,762.19 L1243.50,753.23 L1244.00,747.75 L1244.50,746.32 L1245.00,749.04 L1245.50,755.58 L1246.00,765.21 L1246.50,776.99 L1247.00,789.92 L1247.50,803.09 L1248.00,815.78 L1248.50,827.43 L1249.00,837.68 L1249.50,846.30 L1250.00,853.15 L1250.50,858.17 L1251.00,861.33 L1251.50,862.62 L1252.00,862.04 L1252.50,859.58 L1253.00,855.24 L1253.50,849.04 L1254.00,840.99 L1254.50,831.17 L1255.00,819.73 L1255.50,806.94 L1256.00,793.19 L1256.50,779.09 L1257.00,765.43 L1257.50,753.17 L1258.00,743.33 L1258.50,736.84 L1259.00,734.38 L1259.50,736.21 L1260.00,742.09 L1260.50,751.36 L1261.00,763.10 L1261.50,776.27 L1262.00,789.92 L1262.50,803.24 L1263.00,815.60 L1263.50,826.59 L1264.00,835.93 L1264.50,843.47 L1265.00,849.11 L1265.50,852.83 L1266.00,854.61 L1266.50,854.44 L1267.00,852.32 L1267.50,848.27 L1268.00,842.28 L1268.50,834.41 L1269.00,824.74 L1269.50,813.44 L1270.00,800.79 L1270.50,787.24 L1271.00,773.43 L1271.50,760.16 L1272.00,748.44 L1272.50,739.27 L1273.00,733.57 L1273.50,731.95 L1274.00,734.60 L1274.50,741.21 L1275.00,751.07 L1275.50,763.23 L1276.00,776.65 L1276.50,790.39 L1277.00,803.67 L1277.50,815.90 L1278.00,826.69 L1278.50,835.78 L1279.00,843.03 L1279.50,848.35 L1280.00,851.73 L1280.50,853.14 L1281.00,852.59 L1281.50,850.08 L1282.00,845.62 L1282.50,839.26 L1283.00,831.04 L1283.50,821.11 L1284.00,809.71 L1284.50,797.18 L1285.00,784.09 L1285.50,771.14 L1286.00,759.26 L1286.50,749.43 L1287.00,742.60 L1287.50,739.53 L1288.00,740.58 L1288.50,745.64 L1289.00,754.17 L1289.50,765.34 L1290.00,778.13 L1290.50,791.59 L1291.00,804.88 L1291.50,817.36 L1292.00,828.56 L1292.50,838.18 L1293.00,846.05 L1293.50,852.05 L1294.00,856.15 L1294.50,858.33 L1295.00,858.59 L1295.50,856.94 L1296.00,853.39 L1296.50,847.98 L1297.00,840.78 L1297.50,831.92 L1298.00,821.62 L1298.50,810.25 L1299.00,798.30 L1299.50,786.48 L1300.00,775.63 L1300.50,766.70 L1301.00,760.58 L1301.50,757.98 L1302.00,759.24 L1302.50,764.26 L1303.00,772.53 L1303.50,783.25 L1304.00,795.49 L1304.50,808.34 L1305.00,821.01 L1305.50,832.91 L1306.00,843.59 L1306.50,852.79 L1307.00,860.32 L1307.50,866.10 L1308.00,870.09 L1308.50,872.27 L1309.00,872.65 L1309.50,871.24 L1310.00,868.07 L1310.50,863.19 L1311.00,856.69 L1311.50,848.73 L1312.00,839.56 L1312.50,829.55 L1313.00,819.25 L1313.50,809.35 L1314.00,800.65 L1314.50,794.00 L1315.00,790.15 L1315.50,789.61 L1316.00,792.51 L1316.50,798.60 L1317.00,807.29 L1317.50,817.81 L1318.00,829.31 L1318.50,841.02 L1319.00,852.32 L1319.50,862.72 L1320.00,871.90 L1320.50,879.67 L1321.00,885.90 L1321.50,890.55 L1322.00,893.58 L1322.50,895.00 L1323.00,894.83 L1323.50,893.08 L1324.00,889.80 L1324.50,885.08 L1325.00,879.04 L1325.50,871.89 L1326.00,863.94 L1326.50,855.64 L1327.00,847.55 L1327.50,840.37 L1328.00,834.81 L1328.50,831.54 L1329.00,831.02 L1329.50,833.41 L1330.00,838.56 L1330.50,845.99 L1331.00,855.06 L1331.50,865.05 L1332.00,875.31 L1332.50,885.27 L1333.00,894.52 L1333.50,902.78 L1334.00,909.86 L1334.50,915.65 L1335.00,920.11 L1335.50,923.22 L1336.00,924.98 L1336.50,925.41 L1337.00,924.54 L1337.50,922.42 L1338.00,919.13 L1338.50,914.79 L1339.00,909.60 L1339.50,903.83 L1340.00,897.87 L1340.50,892.19 L1341.00,887.36 L1341.50,883.94 L1342.00,882.41 L1342.50,883.08 L1343.00,886.00 L1343.50,890.98 L1344.00,897.60 L1344.50,905.33 L1345.00,913.63 L1345.50,922.00 L1346.00,930.04 L1346.50,937.46 L1347.00,944.07 L1347.50,949.75 L1348.00,954.44 L1348.50,958.10 L1349.00,960.75 L1349.50,962.39 L1350.00,963.05 L1350.50,962.77 L1351.00,961.60 L1351.50,959.63 L1352.00,956.98 L1352.50,953.83 L1353.00,950.42 L1353.50,947.08 L1354.00,944.16 L1354.50,942.08 L1355.00,941.17 L1355.50,941.70 L1356.00,943.74 L1356.50,947.23 L1357.00,951.91 L1357.50,957.45 L1358.00,963.48 L1358.50,969.66 L1359.00,975.70 L1359.50,981.40 L1360.00,986.60 L1360.50,991.23 L1361.00,995.24 L1361.50,998.61 L1362.00,1001.35 L1362.50,1003.48 L1363.00,1005.01 L1363.50,1005.99 L1364.00,1006.44 L1364.50,1006.43 L1365.00,1006.02 L1365.50,1005.31 L1366.00,1004.44 L1366.50,1003.56 L1367.00,1002.85 L1367.50,1002.51 L1368.00,1002.70 L1368.50,1003.54 L1369.00,1005.05 L1369.50,1007.19 L1370.00,1009.85 L1370.50,1012.86 L1371.00,1016.07 L1371.50,1019.32 L1372.00,1022.49 L1372.50,1025.49 L1373.00,1028.27 L1373.50,1030.79 L1374.00,1033.04 L1374.50,1035.02 L1375.00,1036.75 L1375.50,1038.23 L1376.00,1039.48 L1376.50,1040.50 L1377.00,1041.32 L1377.50,1041.94 L1378.00,1042.36 L1378.50,1042.60 L1379.00,1042.66 L1379.50,1042.54 L1380.00,1042.23 L1380.50,1041.74 L1381.00,1041.06 L1381.50,1040.19 L1382.00,1039.12 L1382.50,1037.85 L1383.00,1036.39 L1383.50,1034.75 L1384.00,1032.95 L1384.50,1031.04 L1385.00,1029.07 L1385.50,1027.12 L1386.00,1025.29 L1386.50,1023.67 L1387.00,1022.34 L1387.50,1021.34 L1388.00,1020.69 L1388.50,1020.34 L1389.00,1020.19 L1389.50,1020.15 L1390.00,1020.09 L1390.50,1019.91 L1391.00,1019.51 L1391.50,1018.82 L1392.00,1017.79 L1392.50,1016.35 L1393.00,1014.49 L1393.50,1012.16 L1394.00,1009.35 L1394.50,1006.04 L1395.00,1002.23 L1395.50,997.95 L1396.00,993.23 L1396.50,988.17 L1397.00,982.90 L1397.50,977.62 L1398.00,972.58 L1398.50,968.06 L1399.00,964.34 L1399.50,961.66 L1400.00,960.13 L1400.50,959.75 L1401.00,960.37 L1401.50,961.73 L1402.00,963.51 L1402.50,965.40 L1403.00,967.12 L1403.50,968.43 L1404.00,969.16 L1404.50,969.17 L1405.00,968.39 L1405.50,966.73 L1406.00,964.18 L1406.50,960.71 L1407.00,956.32 L1407.50,951.04 L1408.00,944.94 L1408.50,938.16 L1409.00,930.90 L1409.50,923.44 L1410.00,916.17 L1410.50,909.55 L1411.00,904.02 L1411.50,900.02 L1412.00,897.79 L1412.50,897.42 L1413.00,898.73 L1413.50,901.37 L1414.00,904.87 L1414.50,908.74 L1415.00,912.51 L1415.50,915.79 L1416.00,918.28 L1416.50,919.77 L1417.00,920.10 L1417.50,919.19 L1418.00,916.97 L1418.50,913.43 L1419.00,908.57 L1419.50,902.45 L1420.00,895.17 L1420.50,886.93 L1421.00,878.03 L1421.50,868.86 L1422.00,859.96 L1422.50,851.94 L1423.00,845.42 L1423.50,840.93 L1424.00,838.83 L1424.50,839.15 L1425.00,841.67 L1425.50,845.89 L1426.00,851.19 L1426.50,856.91 L1427.00,862.44 L1427.50,867.28 L1428.00,871.07 L1428.50,873.51 L1429.00,874.45 L1429.50,873.76 L1430.00,871.39 L1430.50,867.32 L1431.00,861.61 L1431.50,854.35 L1432.00,845.74 L1432.50,836.07 L1433.00,825.78 L1433.50,815.45 L1434.00,805.79 L1434.50,797.56 L1435.00,791.48 L1435.50,788.10 L1436.00,787.64 L1436.50,789.99 L1437.00,794.68 L1437.50,801.02 L1438.00,808.21 L1438.50,815.49 L1439.00,822.21 L1439.50,827.83 L1440.00,831.99 L1440.50,834.42 L1441.00,834.96 L1441.50,833.52 L1442.00,830.10 L1442.50,824.72 L1443.00,817.51 L1443.50,808.69 L1444.00,798.58 L1444.50,787.70 L1445.00,776.69 L1445.50,766.35 L1446.00,757.55 L1446.50,751.11 L1447.00,747.64 L1447.50,747.43 L1448.00,750.34 L1448.50,755.88 L1449.00,763.25 L1449.50,771.59 L1450.00,780.02 L1450.50,787.80 L1451.00,794.34 L1451.50,799.22 L1452.00,802.15 L1452.50,802.95 L1453.00,801.53 L1453.50,797.90 L1454.00,792.11 L1454.50,784.35 L1455.00,774.90 L1455.50,764.19 L1456.00,752.85 L1456.50,741.66 L1457.00,731.52 L1457.50,723.39 L1458.00,718.09 L1458.50,716.16 L1459.00,717.72 L1459.50,722.46 L1460.00,729.70 L1460.50,738.53 L1461.00,747.99 L1461.50,757.18 L1462.00,765.37 L1462.50,772.00 L1463.00,776.68 L1463.50,779.15 L1464.00,779.28 L1464.50,777.02 L1465.00,772.44 L1465.50,765.69 L1466.00,757.05 L1466.50,746.94 L1467.00,735.99 L1467.50,724.97 L1468.00,714.83 L1468.50,706.55 L1469.00,701.02 L1469.50,698.86 L1470.00,700.27 L1470.50,705.01 L1471.00,712.43 L1471.50,721.60 L1472.00,731.55 L1472.50,741.33 L1473.00,750.15 L1473.50,757.41 L1474.00,762.69 L1474.50,765.70 L1475.00,766.31 L1475.50,764.47 L1476.00,760.27 L1476.50,753.87 L1477.00,745.60 L1477.50,735.94 L1478.00,725.55 L1478.50,715.28 L1479.00,706.07 L1479.50,698.92 L1480.00,694.66 L1480.50,693.80 L1481.00,696.43 L1481.50,702.19 L1482.00,710.34 L1482.50,719.93 L1483.00,729.97 L1483.50,739.58 L1484.00,748.00 L1484.50,754.69 L1485.00,759.28 L1485.50,761.54 L1486.00,761.37 L1486.50,758.80 L1487.00,753.94 L1487.50,747.08 L1488.00,738.63 L1488.50,729.19 L1489.00,719.54 L1489.50,710.59 L1490.00,703.32 L1490.50,698.60 L1491.00,697.06 L1491.50,698.90 L1492.00,703.91 L1492.50,711.46 L1493.00,720.66 L1493.50,730.55 L1494.00,740.21 L1494.50,748.88 L1495.00,755.96 L1495.50,761.06 L1496.00,763.90 L1496.50,764.40 L1497.00,762.54 L1497.50,758.47 L1498.00,752.46 L1498.50,744.92 L1499.00,736.46 L1499.50,727.84 L1500.00,719.95 L1500.50,713.74 L1501.00,710.00 L1501.50,709.31 L1502.00,711.80 L1502.50,717.21 L1503.00,724.90 L1503.50,734.01 L1504.00,743.61 L1504.50,752.86 L1505.00,761.04 L1505.50,767.62 L1506.00,772.25 L1506.50,774.70 L1507.00,774.92 L1507.50,772.95 L1508.00,768.98 L1508.50,763.32 L1509.00,756.47 L1509.50,749.08 L1510.00,741.92 L1510.50,735.87 L1511.00,731.76 L1511.50,730.21 L1512.00,731.55 L1512.50,735.71 L1513.00,742.21 L1513.50,750.35 L1514.00,759.28 L1514.50,768.16 L1515.00,776.28 L1515.50,783.08 L1516.00,788.16 L1516.50,791.29 L1517.00,792.36 L1517.50,791.40 L1518.00,788.56 L1518.50,784.12 L1519.00,778.53 L1519.50,772.37 L1520.00,766.36 L1520.50,761.29 L1521.00,757.92 L1521.50,756.82 L1522.00,758.29 L1522.50,762.27 L1523.00,768.35 L1523.50,775.86 L1524.00,784.06 L1524.50,792.18 L1525.00,799.58 L1525.50,805.76 L1526.00,810.35 L1526.50,813.16 L1527.00,814.12 L1527.50,813.26 L1528.00,810.77 L1528.50,806.94 L1529.00,802.23 L1529.50,797.22 L1530.00,792.57 L1530.50,789.00 L1531.00,787.13 L1531.50,787.39 L1532.00,789.91 L1532.50,794.50 L1533.00,800.70 L1533.50,807.86 L1534.00,815.31 L1534.50,822.39 L1535.00,828.61 L1535.50,833.56 L1536.00,837.00 L1536.50,838.81 L1537.00,839.00 L1537.50,837.69 L1538.00,835.11 L1538.50,831.64 L1539.00,827.76 L1539.50,824.06 L1540.00,821.15 L1540.50,819.60 L1541.00,819.82 L1541.50,821.98 L1542.00,825.95 L1542.50,831.35 L1543.00,837.66 L1543.50,844.27 L1544.00,850.62 L1544.50,856.25 L1545.00,860.80 L1545.50,864.06 L1546.00,865.91 L1546.50,866.37 L1547.00,865.55 L1547.50,863.67 L1548.00,861.08 L1548.50,858.22 L1549.00,855.60 L1549.50,853.74 L1550.00,853.11 L1550.50,854.00 L1551.00,856.50 L1551.50,860.42 L1552.00,865.42 L1552.50,871.02 L1553.00,876.71 L1553.50,882.04 L1554.00,886.63 L1554.50,890.23 L1555.00,892.68 L1555.50,893.94 L1556.00,894.07 L1556.50,893.20 L1557.00,891.60 L1557.50,889.61 L1558.00,887.64 L1558.50,886.14 L1559.00,885.52 L1559.50,886.09 L1560.00,887.97 L1560.50,891.09 L1561.00,895.18 L1561.50,899.87 L1562.00,904.75 L1562.50,909.41 L1563.00,913.52 L1563.50,916.83 L1564.00,919.22 L1564.50,920.62 L1565.00,921.07 L1565.50,920.69 L1566.00,919.70 L1566.50,918.39 L1567.00,917.10 L1567.50,916.20 L1568.00,916.04 L1568.50,916.83 L1569.00,918.69 L1569.50,921.52 L1570.00,925.10 L1570.50,929.12 L1571.00,933.23 L1571.50,937.10 L1572.00,940.48 L1572.50,943.18 L1573.00,945.11 L1573.50,946.24 L1574.00,946.62 L1574.50,946.39 L1575.00,945.75 L1575.50,944.95 L1576.00,944.31 L1576.50,944.11 L1577.00,944.58 L1577.50,945.87 L1578.00,947.96 L1578.50,950.75 L1579.00,953.99 L1579.50,957.41 L1580.00,960.75 L1580.50,963.76 L1581.00,966.28 L1581.50,968.20 L1582.00,969.48 L1582.50,970.15 L1583.00,970.31 L1583.50,970.10 L1584.00,969.74 L1584.50,969.45 L1585.00,969.48 L1585.50,970.00 L1586.00,971.15 L1586.50,972.92 L1587.00,975.23 L1587.50,977.88 L1588.00,980.68 L1588.50,983.40 L1589.00,985.87 L1589.50,987.94 L1590.00,989.53 L1590.50,990.63 L1591.00,991.26 L1591.50,991.51 L1592.00,991.51 L1592.50,991.43 L1593.00,991.46 L1593.50,991.78 L1594.00,992.52 L1594.50,993.75 L1595.00,995.44 L1595.50,997.49 L1596.00,999.75 L1596.50,1002.05 L1597.00,1004.23 L1597.50,1006.16 L1598.00,1007.75 L1598.50,1008.96 L1599.00,1009.80 L1599.50,1010.31 L1600.00,1010.59 L1600.50,1010.76 L1601.00,1010.95 L1601.50,1011.31 L1602.00,1011.95 L1602.50,1012.93 L1603.00,1014.24 L1603.50,1015.83 L1604.00,1017.60 L1604.50,1019.40 L1605.00,1021.13 L1605.50,1022.67 L1606.00,1023.97 L1606.50,1024.98 L1607.00,1025.71 L1607.50,1026.20 L1608.00,1026.51 L1608.50,1026.76 L1609.00,1027.03 L1609.50,1027.44 L1610.00,1028.06 L1610.50,1028.94 L1611.00,1030.07 L1611.50,1031.39 L1612.00,1032.82 L1612.50,1034.26 L1613.00,1035.62 L1613.50,1036.83 L1614.00,1037.84 L1614.50,1038.65 L1615.00,1039.25 L1615.50,1039.69 L1616.00,1040.03 L1616.50,1040.34 L1617.00,1040.71 L1617.50,1041.20 L1618.00,1041.85 L1618.50,1042.68 L1619.00,1043.66 L1619.50,1044.74 L1620.00,1045.84 L1620.50,1046.89 L1621.00,1047.85 L1621.50,1048.67 L1622.00,1049.34 L1622.50,1049.86 L1623.00,1050.25 L1623.50,1050.57 L1624.00,1050.87 L1624.50,1051.20 L1625.00,1051.63 L1625.50,1052.18 L1626.00,1052.87 L1626.50,1053.67 L1627.00,1054.54 L1627.50,1055.43 L1628.00,1056.30 L1628.50,1057.09 L1629.00,1057.78 L1629.50,1058.36 L1630.00,1058.83 L1630.50,1059.22 L1631.00,1059.56 L1631.50,1059.89 L1632.00,1060.25 L1632.50,1060.68 L1633.00,1061.19 L1633.50,1061.78 L1634.00,1062.44 L1634.50,1063.12 L1635.00,1063.80 L1635.50,1064.44 L1636.00,1065.02 L1636.50,1065.52 L1637.00,1065.94 L1637.50,1066.29 L1638.00,1066.60 L1638.50,1066.88 L1639.00,1067.18 L1639.50,1067.51 L1640.00,1067.90 L1640.50,1068.33 L1641.00,1068.81 L1641.50,1069.31 L1642.00,1069.81 L1642.50,1070.28 L1643.00,1070.70 L1643.50,1071.07 L1644.00,1071.38 L1644.50,1071.65 L1645.00,1071.89 L1645.50,1072.12 L1646.00,1072.36 L1646.50,1072.64 L1647.00,1072.96 L1647.50,1073.33 L1648.00,1073.72 L1648.50,1074.14 L1649.00,1074.55 L1649.50,1074.93 L1650.00,1075.29 L1650.50,1075.61 L1651.00,1075.89 L1651.50,1076.14 L1652.00,1076.38 L1652.50,1076.62 L1653.00,1076.87 L1653.50,1077.15 L1654.00,1077.45 L1654.50,1077.79 L1655.00,1078.13 L1655.50,1078.48 L1656.00,1078.83 L1656.50,1079.15 L1657.00,1079.45 L1657.50,1079.73 L1658.00,1080.00 L1658.50,1080.26 L1659.00,1080.52 L1659.50,1080.80 L1660.00,1081.10 L1660.50,1081.44 L1661.00,1081.80 L1661.50,1082.18 L1662.00,1082.57 L1662.50,1082.97 L1663.00,1083.35 L1663.50,1083.73 L1664.00,1084.08 L1664.50,1084.41 L1665.00,1084.72 L1665.50,1085.01 L1666.00,1085.28 L1666.50,1085.52 L1667.00,1085.75 L1667.50,1085.96 L1668.00,1086.16 L1668.50,1086.34 L1669.00,1086.51 L1669.50,1086.67 L1670.00,1086.81 L1670.50,1086.95 L1671.00,1087.08 L1671.50,1087.21 L1672.00,1087.32 L1672.50,1087.43 L1673.00,1087.53 L1673.50,1087.63 L1674.00,1087.73 L1674.50,1087.82 L1675.00,1087.90 L1675.50,1087.99 L1676.00,1088.07 L1676.50,1088.14 L1677.00,1088.22 L1677.50,1088.29 L1678.00,1088.35 L1678.50,1088.42 L1679.00,1088.48 L1679.50,1088.54 L1680.00,1088.60 L1680.50,1088.66 L1681.00,1088.72 L1681.50,1088.77 L1682.00,1088.82 L1682.50,1088.88 L1683.00,1088.93 L1683.50,1088.98 L1684.00,1089.02 L1684.50,1089.07 L1685.00,1089.11 L1685.50,1089.16 L1686.00,1089.20 L1686.50,1089.24 L1687.00,1089.29 L1687.50,1089.33 L1688.00,1089.37 L1688.50,1089.40 L1689.00,1089.44 L1689.50,1089.48 L1690.00,1089.52 L1690.50,1089.55 L1691.00,1089.59 L1691.50,1089.62 L1692.00,1089.66 L1692.50,1089.69 L1693.00,1089.72 L1693.50,1089.75 L1694.00,1089.78 L1694.50,1089.82 L1695.00,1089.85 L1695.50,1089.88 L1696.00,1089.91 L1696.50,1089.93 L1697.00,1089.96 L1697.50,1089.99 L1698.00,1090.02 L1698.50,1090.05 L1699.00,1090.07 L1699.50,1090.10 L1700.00,1090.13 L1700.50,1090.15 L1701.00,1090.18 L1701.50,1090.20 L1702.00,1090.23 L1702.50,1090.25 L1703.00,1090.27 L1703.50,1090.30 L1704.00,1090.32 L1704.50,1090.34 L1705.00,1090.37 L1705.50,1090.39 L1706.00,1090.41 L1706.50,1090.43 L1707.00,1090.45 L1707.50,1090.48 L1708.00,1090.50 L1708.50,1090.52 L1709.00,1090.54 L1709.50,1090.56 L1710.00,1090.58 L1710.50,1090.60 L1711.00,1090.62 L1711.50,1090.64 L1712.00,1090.66 L1712.50,1090.68 L1713.00,1090.69 L1713.50,1090.71 L1714.00,1090.73 L1714.50,1090.75 L1715.00,1090.77 L1715.50,1090.78 L1716.00,1090.80 L1716.50,1090.82 L1717.00,1090.84 L1717.50,1090.85 L1718.00,1090.87 L1718.50,1090.89 L1719.00,1090.90 L1719.50,1090.92 L1720.00,1090.94 L1720.50,1090.95 L1721.00,1090.97 L1721.50,1090.98 L1722.00,1091.00 L1722.50,1091.01 L1723.00,1091.03 L1723.50,1091.04 L1724.00,1091.06 L1724.50,1091.07 L1725.00,1091.09 L1725.50,1091.10 L1726.00,1091.12 L1726.50,1091.13 L1727.00,1091.14 L1727.50,1091.16 L1728.00,1091.17 L1728.50,1091.19 L1729.00,1091.20 L1729.50,1091.21 L1730.00,1091.23 L1730.50,1091.24 L1731.00,1091.25 L1731.50,1091.26 L1732.00,1091.28 L1732.50,1091.29 L1733.00,1091.30 L1733.50,1091.31 L1734.00,1091.33 L1734.50,1091.34 L1735.00,1091.35 L1735.50,1091.36 L1736.00,1091.38 L1736.50,1091.39 L1737.00,1091.40 L1737.50,1091.41 L1738.00,1091.42 L1738.50,1091.43 L1739.00,1091.45 L1739.50,1091.46 L1740.00,1091.47 L1740.50,1091.48 L1741.00,1091.49 L1741.50,1091.50 L1742.00,1091.51 L1742.50,1091.52 L1743.00,1091.53 L1743.50,1091.54 L1744.00,1091.55 L1744.50,1091.56 L1745.00,1091.57 L1745.50,1091.58 L1746.00,1091.59 L1746.50,1091.60 L1747.00,1091.61 L1747.50,1091.62 L1748.00,1091.63 L1748.50,1091.64 L1749.00,1091.65 L1749.50,1091.66 L1750.00,1091.67 L1750.50,1091.68 L1751.00,1091.69 L1751.50,1091.70 L1752.00,1091.71 L1752.50,1091.72 L1753.00,1091.73 L1753.50,1091.74 L1754.00,1091.75 L1754.50,1091.76 L1755.00,1091.76 L1755.50,1091.77 L1756.00,1091.78 L1756.50,1091.79 L1757.00,1091.80 L1757.50,1091.81 L1758.00,1091.82 L1758.50,1091.82 L1759.00,1091.83 L1759.50,1091.84 L1760.00,1091.85 L1760.50,1091.86 L1761.00,1091.87 L1761.50,1091.87 L1762.00,1091.88 L1762.50,1091.89 L1763.00,1091.90 L1763.50,1091.91 L1764.00,1091.91 L1764.50,1091.92 L1765.00,1091.93 L1765.50,1091.94 L1766.00,1091.94 L1766.50,1091.95 L1767.00,1091.96 L1767.50,1091.97 L1768.00,1091.97 L1768.50,1091.98 L1769.00,1091.99 L1769.50,1092.00 L1770.00,1092.00 L1770.50,1092.01 L1771.00,1092.02 L1771.50,1092.03 L1772.00,1092.03 L1772.50,1092.04 L1773.00,1092.05 L1773.50,1092.05 L1774.00,1092.06 L1774.50,1092.07 L1775.00,1092.07 L1775.50,1092.08 L1776.00,1092.09 L1776.50,1092.09 L1777.00,1092.10 L1777.50,1092.11 L1778.00,1092.11 L1778.50,1092.12 L1779.00,1092.13 L1779.50,1092.13 L1780.00,1092.14 L1780.50,1092.15 L1781.00,1092.15 L1781.50,1092.16 L1782.00,1092.16 L1782.50,1092.17 L1783.00,1092.18 L1783.50,1092.18 L1784.00,1092.19 L1784.50,1092.20 L1785.00,1092.20 L1785.50,1092.21 L1786.00,1092.21 L1786.50,1092.22 L1787.00,1092.22 L1787.50,1092.23 L1788.00,1092.24 L1788.50,1092.24 L1789.00,1092.25 L1789.50,1092.25 L1790.00,1092.26"/>
</g>
<g clip-path="url(#k110)"><text x="-66.02 -27.09 9.74 29.19" transform="matrix(1 0 0 1.01 128.88 146.90)">11.0</text></g>
<g clip-path="url(#k105)"><text x="-66.02 -29.19 9.74 29.19" transform="matrix(1 0 0 1.01 479.51 146.90)">10.5</text></g>
<g clip-path="url(#k100)"><text x="-66.02 -29.19 9.74 29.19" transform="matrix(1 0 0 1.01 865.19 146.90)">10.0</text></g>
<text class="m" transform="matrix(1 0 0 1.01 1290.68 146.90)">9.5</text>
<text class="m" transform="matrix(1 0 0 1.01 1764.33 146.90)">9.0</text>
<text class="m" transform="matrix(1 0 0 1.01 60.30 1186.70)">27</text>
<text class="m" transform="matrix(1 0 0 1.01 330.47 1186.70)">28</text>
<text class="m" transform="matrix(1 0 0 1.01 600.63 1186.70)">29</text>
<text class="m" transform="matrix(1 0 0 1.01 870.80 1186.70)">30</text>
<g clip-path="url(#k31)"><text x="-38.93 2.1" transform="matrix(1 0 0 1.01 1140.97 1186.70)">31</text></g>
<text class="m" transform="matrix(1 0 0 1.01 1411.13 1186.70)">32</text>
<text class="m" transform="matrix(1 0 0 1.01 1681.30 1186.70)">33</text>
<g clip-path="url(#tc)"><text class="m" transform="matrix(0.992 0 0 1 924.00 71.60)">Wavelength, µm</text></g>
<text class="m" transform="matrix(0.998 0 0 1 926.90 1246.60)">Frequency, THz</text>
<text class="b" transform="matrix(0.87 0 0 1 126.60 416.24)">a</text>
<text class="b" transform="matrix(1 0 0 1 134.60 858.00)">b</text>
<g clip-path="url(#k10P)"><text x="2.1 38.93 77.86" transform="matrix(1.02 0 0 1.005 227.40 331.70)">10<tspan class="i">P</tspan></text></g>
<g clip-path="url(#k10R)"><text x="2.1 38.93 77.86" transform="matrix(1.02 0 0 1.005 677.30 319.10)">10<tspan class="i">R</tspan></text></g>
<text transform="matrix(1.035 0 0 1.005 1105.60 335.10)">9<tspan class="i">P</tspan></text>
<text transform="matrix(1.035 0 0 1.005 1547.20 371.10)">9<tspan class="i">R</tspan></text>
<g clip-path="url(#k1bar)"><text x="2.1 38.93 58.38 97.31 136.24" transform="matrix(1.012 0 0 0.98 840.00 511.10)">1 bar</text></g>
<g clip-path="url(#k10bar)"><text x="2.1 38.93 77.86 97.31 136.24 175.17" transform="matrix(1.01 0 0 0.98 820.10 984.10)">10 bar</text></g>
</svg>
</body></html>
